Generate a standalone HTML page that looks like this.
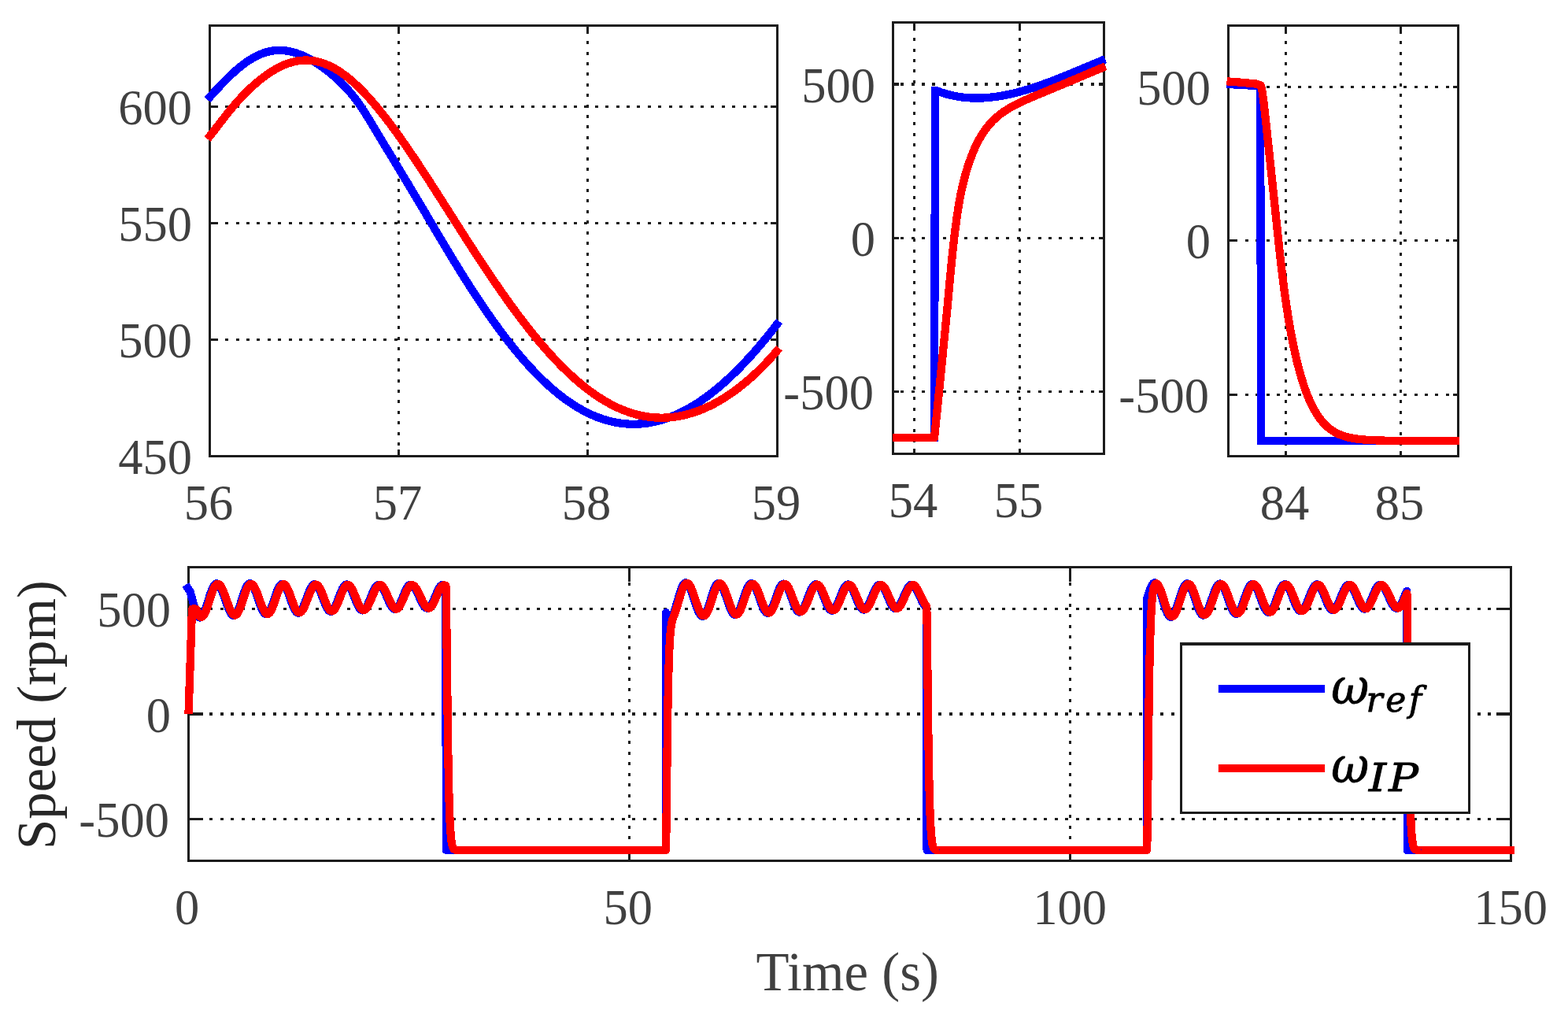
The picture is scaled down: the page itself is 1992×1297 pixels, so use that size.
<!DOCTYPE html>
<html lang="en"><head><meta charset="utf-8"><title>Speed response</title>
<style>html,body{margin:0;padding:0;background:#fff;overflow:hidden}svg{display:block}</style></head><body>
<svg width="1992" height="1297" viewBox="0 0 1992 1297" font-family="'Liberation Serif', 'DejaVu Serif', serif">
<rect width="1992" height="1297" fill="#fff"/>
<g stroke="#1c1c1c" stroke-width="3" stroke-dasharray="4 9.42" fill="none" shape-rendering="crispEdges"><line x1="506.5" y1="32.5" x2="506.5" y2="579.5" stroke-dashoffset="-19.6"/><line x1="746.5" y1="32.5" x2="746.5" y2="579.5" stroke-dashoffset="-19.6"/><line x1="266.5" y1="431.5" x2="987.5" y2="431.5" stroke-dashoffset="-19.6"/><line x1="266.5" y1="283.5" x2="987.5" y2="283.5" stroke-dashoffset="-19.6"/><line x1="266.5" y1="135.5" x2="987.5" y2="135.5" stroke-dashoffset="-19.6"/></g>
<path d="M506.5 32.5v8.7M506.5 579.5v-8.7M746.5 32.5v8.7M746.5 579.5v-8.7M266.5 431.5h8.7M987.5 431.5h-8.7M266.5 283.5h8.7M987.5 283.5h-8.7M266.5 135.5h8.7M987.5 135.5h-8.7" stroke="#1c1c1c" stroke-width="3" fill="none" shape-rendering="crispEdges"/>
<rect x="266.5" y="32.5" width="721" height="547" fill="none" stroke="#1c1c1c" stroke-width="3" shape-rendering="crispEdges"/>
<path d="M263.5 126.59 L265.5 124.4 L267.5 122.21 L269.5 120.02 L271.5 117.84 L273.5 115.66 L275.5 113.5 L277.5 111.36 L279.5 109.23 L281.5 107.13 L283.5 105.05 L285.5 103 L287.5 100.98 L289.5 98.99 L291.5 97.04 L293.5 95.13 L295.5 93.26 L297.5 91.43 L299.5 89.65 L301.5 87.92 L303.5 86.23 L305.5 84.59 L307.5 83.01 L309.5 81.48 L311.5 80.01 L313.5 78.6 L315.5 77.25 L317.5 75.95 L319.5 74.72 L321.5 73.55 L323.5 72.45 L325.5 71.41 L327.5 70.43 L329.5 69.52 L331.5 68.68 L333.5 67.91 L335.5 67.2 L337.5 66.56 L339.5 66 L341.5 65.5 L343.5 65.07 L345.5 64.7 L347.5 64.41 L349.5 64.19 L351.5 64.03 L353.5 63.94 L355.5 63.92 L357.5 63.97 L359.5 64.08 L361.5 64.26 L363.5 64.5 L365.5 64.8 L367.5 65.17 L369.5 65.6 L371.5 66.09 L373.5 66.64 L375.5 67.24 L377.5 67.91 L379.5 68.62 L381.5 69.39 L383.5 70.21 L385.5 71.08 L387.5 72.01 L389.5 72.98 L391.5 74 L393.5 75.06 L395.5 76.17 L397.5 77.33 L399.5 78.53 L401.5 79.77 L403.5 81.06 L405.5 82.39 L407.5 83.75 L409.5 85.16 L411.5 86.61 L413.5 88.1 L415.5 89.63 L417.5 91.2 L419.5 92.8 L421.5 94.45 L423.5 96.14 L425.5 97.87 L427.5 99.65 L429.5 101.48 L431.5 103.35 L433.5 105.28 L435.5 107.26 L437.5 109.3 L439.5 111.41 L441.5 113.58 L443.5 115.82 L445.5 118.13 L447.5 120.53 L449.5 123.02 L451.5 125.59 L453.5 128.27 L455.5 131.04 L457.5 133.91 L459.5 136.87 L461.5 139.91 L463.5 143.02 L465.5 146.19 L467.5 149.4 L469.5 152.65 L471.5 155.93 L473.5 159.23 L475.5 162.55 L477.5 165.88 L479.5 169.22 L481.5 172.55 L483.5 175.89 L485.5 179.22 L487.5 182.54 L489.5 185.86 L491.5 189.17 L493.5 192.48 L495.5 195.78 L497.5 199.08 L499.5 202.38 L501.5 205.68 L503.5 208.98 L505.5 212.28 L507.5 215.58 L509.5 218.89 L511.5 222.2 L513.5 225.52 L515.5 228.84 L517.5 232.16 L519.5 235.49 L521.5 238.83 L523.5 242.17 L525.5 245.52 L527.5 248.88 L529.5 252.24 L531.5 255.6 L533.5 258.98 L535.5 262.35 L537.5 265.73 L539.5 269.12 L541.5 272.5 L543.5 275.89 L545.5 279.28 L547.5 282.67 L549.5 286.06 L551.5 289.45 L553.5 292.83 L555.5 296.21 L557.5 299.59 L559.5 302.96 L561.5 306.32 L563.5 309.67 L565.5 313.02 L567.5 316.35 L569.5 319.68 L571.5 322.99 L573.5 326.3 L575.5 329.59 L577.5 332.86 L579.5 336.12 L581.5 339.37 L583.5 342.61 L585.5 345.83 L587.5 349.03 L589.5 352.22 L591.5 355.39 L593.5 358.54 L595.5 361.68 L597.5 364.79 L599.5 367.9 L601.5 370.98 L603.5 374.04 L605.5 377.08 L607.5 380.11 L609.5 383.11 L611.5 386.09 L613.5 389.06 L615.5 392 L617.5 394.91 L619.5 397.81 L621.5 400.69 L623.5 403.54 L625.5 406.37 L627.5 409.17 L629.5 411.95 L631.5 414.71 L633.5 417.44 L635.5 420.15 L637.5 422.83 L639.5 425.49 L641.5 428.12 L643.5 430.73 L645.5 433.31 L647.5 435.86 L649.5 438.39 L651.5 440.89 L653.5 443.36 L655.5 445.8 L657.5 448.22 L659.5 450.61 L661.5 452.97 L663.5 455.3 L665.5 457.6 L667.5 459.87 L669.5 462.12 L671.5 464.33 L673.5 466.51 L675.5 468.67 L677.5 470.79 L679.5 472.89 L681.5 474.95 L683.5 476.98 L685.5 478.98 L687.5 480.95 L689.5 482.89 L691.5 484.8 L693.5 486.68 L695.5 488.52 L697.5 490.33 L699.5 492.11 L701.5 493.86 L703.5 495.58 L705.5 497.26 L707.5 498.91 L709.5 500.53 L711.5 502.12 L713.5 503.67 L715.5 505.19 L717.5 506.68 L719.5 508.13 L721.5 509.55 L723.5 510.94 L725.5 512.29 L727.5 513.61 L729.5 514.9 L731.5 516.15 L733.5 517.37 L735.5 518.55 L737.5 519.71 L739.5 520.83 L741.5 521.91 L743.5 522.96 L745.5 523.98 L747.5 524.96 L749.5 525.91 L751.5 526.83 L753.5 527.71 L755.5 528.56 L757.5 529.37 L759.5 530.15 L761.5 530.9 L763.5 531.61 L765.5 532.29 L767.5 532.93 L769.5 533.55 L771.5 534.12 L773.5 534.67 L775.5 535.18 L777.5 535.65 L779.5 536.09 L781.5 536.5 L783.5 536.88 L785.5 537.22 L787.5 537.53 L789.5 537.8 L791.5 538.04 L793.5 538.25 L795.5 538.42 L797.5 538.56 L799.5 538.66 L801.5 538.74 L803.5 538.77 L805.5 538.78 L807.5 538.75 L809.5 538.69 L811.5 538.6 L813.5 538.47 L815.5 538.31 L817.5 538.11 L819.5 537.89 L821.5 537.63 L823.5 537.33 L825.5 537.01 L827.5 536.65 L829.5 536.26 L831.5 535.84 L833.5 535.38 L835.5 534.89 L837.5 534.37 L839.5 533.82 L841.5 533.23 L843.5 532.61 L845.5 531.96 L847.5 531.28 L849.5 530.57 L851.5 529.82 L853.5 529.05 L855.5 528.24 L857.5 527.4 L859.5 526.52 L861.5 525.62 L863.5 524.69 L865.5 523.72 L867.5 522.73 L869.5 521.7 L871.5 520.64 L873.5 519.55 L875.5 518.43 L877.5 517.28 L879.5 516.1 L881.5 514.89 L883.5 513.65 L885.5 512.38 L887.5 511.08 L889.5 509.75 L891.5 508.39 L893.5 507 L895.5 505.58 L897.5 504.14 L899.5 502.66 L901.5 501.15 L903.5 499.62 L905.5 498.06 L907.5 496.47 L909.5 494.85 L911.5 493.2 L913.5 491.52 L915.5 489.82 L917.5 488.09 L919.5 486.33 L921.5 484.55 L923.5 482.73 L925.5 480.89 L927.5 479.02 L929.5 477.13 L931.5 475.21 L933.5 473.26 L935.5 471.29 L937.5 469.29 L939.5 467.27 L941.5 465.22 L943.5 463.14 L945.5 461.04 L947.5 458.91 L949.5 456.76 L951.5 454.58 L953.5 452.38 L955.5 450.16 L957.5 447.91 L959.5 445.64 L961.5 443.34 L963.5 441.02 L965.5 438.68 L967.5 436.31 L969.5 433.92 L971.5 431.51 L973.5 429.07 L975.5 426.61 L977.5 424.13 L979.5 421.63 L981.5 419.11 L983.5 416.56 L985.5 414 L987.5 411.41 L989.5 408.8 L990 408.15" fill="none" stroke="#0000ff" stroke-width="10.3" stroke-linecap="butt" stroke-linejoin="round" shape-rendering="crispEdges"/>
<path d="M263.5 176.66 L265.5 174.21 L267.5 171.72 L269.5 169.19 L271.5 166.63 L273.5 164.04 L275.5 161.44 L277.5 158.84 L279.5 156.24 L281.5 153.64 L283.5 151.06 L285.5 148.5 L287.5 145.96 L289.5 143.45 L291.5 140.98 L293.5 138.54 L295.5 136.14 L297.5 133.79 L299.5 131.47 L301.5 129.2 L303.5 126.98 L305.5 124.8 L307.5 122.67 L309.5 120.58 L311.5 118.54 L313.5 116.54 L315.5 114.59 L317.5 112.67 L319.5 110.81 L321.5 108.98 L323.5 107.2 L325.5 105.46 L327.5 103.77 L329.5 102.12 L331.5 100.52 L333.5 98.96 L335.5 97.44 L337.5 95.98 L339.5 94.56 L341.5 93.18 L343.5 91.86 L345.5 90.58 L347.5 89.35 L349.5 88.18 L351.5 87.06 L353.5 85.99 L355.5 84.97 L357.5 84.01 L359.5 83.1 L361.5 82.25 L363.5 81.46 L365.5 80.72 L367.5 80.05 L369.5 79.43 L371.5 78.87 L373.5 78.37 L375.5 77.93 L377.5 77.56 L379.5 77.24 L381.5 76.98 L383.5 76.79 L385.5 76.66 L387.5 76.59 L389.5 76.59 L391.5 76.65 L393.5 76.77 L395.5 76.95 L397.5 77.2 L399.5 77.51 L401.5 77.89 L403.5 78.32 L405.5 78.82 L407.5 79.39 L409.5 80.01 L411.5 80.7 L413.5 81.45 L415.5 82.26 L417.5 83.13 L419.5 84.07 L421.5 85.06 L423.5 86.12 L425.5 87.23 L427.5 88.41 L429.5 89.64 L431.5 90.93 L433.5 92.27 L435.5 93.68 L437.5 95.13 L439.5 96.65 L441.5 98.21 L443.5 99.83 L445.5 101.5 L447.5 103.22 L449.5 104.99 L451.5 106.81 L453.5 108.68 L455.5 110.6 L457.5 112.56 L459.5 114.56 L461.5 116.61 L463.5 118.7 L465.5 120.83 L467.5 123.01 L469.5 125.22 L471.5 127.48 L473.5 129.77 L475.5 132.1 L477.5 134.46 L479.5 136.86 L481.5 139.29 L483.5 141.76 L485.5 144.26 L487.5 146.79 L489.5 149.36 L491.5 151.95 L493.5 154.57 L495.5 157.22 L497.5 159.89 L499.5 162.6 L501.5 165.33 L503.5 168.08 L505.5 170.86 L507.5 173.66 L509.5 176.48 L511.5 179.32 L513.5 182.19 L515.5 185.07 L517.5 187.98 L519.5 190.9 L521.5 193.84 L523.5 196.79 L525.5 199.77 L527.5 202.75 L529.5 205.76 L531.5 208.77 L533.5 211.8 L535.5 214.84 L537.5 217.89 L539.5 220.96 L541.5 224.03 L543.5 227.11 L545.5 230.2 L547.5 233.3 L549.5 236.41 L551.5 239.52 L553.5 242.64 L555.5 245.77 L557.5 248.9 L559.5 252.03 L561.5 255.17 L563.5 258.31 L565.5 261.45 L567.5 264.6 L569.5 267.74 L571.5 270.89 L573.5 274.03 L575.5 277.18 L577.5 280.32 L579.5 283.46 L581.5 286.6 L583.5 289.74 L585.5 292.87 L587.5 296 L589.5 299.12 L591.5 302.24 L593.5 305.35 L595.5 308.46 L597.5 311.56 L599.5 314.65 L601.5 317.73 L603.5 320.81 L605.5 323.88 L607.5 326.93 L609.5 329.98 L611.5 333.02 L613.5 336.05 L615.5 339.06 L617.5 342.07 L619.5 345.06 L621.5 348.04 L623.5 351.01 L625.5 353.96 L627.5 356.9 L629.5 359.83 L631.5 362.74 L633.5 365.64 L635.5 368.52 L637.5 371.39 L639.5 374.24 L641.5 377.07 L643.5 379.89 L645.5 382.69 L647.5 385.47 L649.5 388.24 L651.5 390.98 L653.5 393.71 L655.5 396.42 L657.5 399.11 L659.5 401.78 L661.5 404.43 L663.5 407.05 L665.5 409.66 L667.5 412.25 L669.5 414.82 L671.5 417.36 L673.5 419.88 L675.5 422.38 L677.5 424.86 L679.5 427.31 L681.5 429.74 L683.5 432.15 L685.5 434.53 L687.5 436.89 L689.5 439.23 L691.5 441.54 L693.5 443.82 L695.5 446.08 L697.5 448.32 L699.5 450.53 L701.5 452.71 L703.5 454.87 L705.5 457 L707.5 459.1 L709.5 461.18 L711.5 463.23 L713.5 465.25 L715.5 467.25 L717.5 469.21 L719.5 471.15 L721.5 473.06 L723.5 474.95 L725.5 476.8 L727.5 478.62 L729.5 480.42 L731.5 482.19 L733.5 483.92 L735.5 485.63 L737.5 487.31 L739.5 488.95 L741.5 490.57 L743.5 492.16 L745.5 493.72 L747.5 495.24 L749.5 496.74 L751.5 498.2 L753.5 499.64 L755.5 501.04 L757.5 502.41 L759.5 503.75 L761.5 505.06 L763.5 506.33 L765.5 507.58 L767.5 508.79 L769.5 509.97 L771.5 511.12 L773.5 512.24 L775.5 513.32 L777.5 514.38 L779.5 515.39 L781.5 516.38 L783.5 517.34 L785.5 518.26 L787.5 519.15 L789.5 520 L791.5 520.83 L793.5 521.62 L795.5 522.38 L797.5 523.1 L799.5 523.79 L801.5 524.45 L803.5 525.08 L805.5 525.67 L807.5 526.23 L809.5 526.76 L811.5 527.25 L813.5 527.71 L815.5 528.14 L817.5 528.53 L819.5 528.9 L821.5 529.22 L823.5 529.52 L825.5 529.78 L827.5 530.01 L829.5 530.2 L831.5 530.37 L833.5 530.5 L835.5 530.59 L837.5 530.66 L839.5 530.69 L841.5 530.69 L843.5 530.65 L845.5 530.58 L847.5 530.49 L849.5 530.35 L851.5 530.19 L853.5 529.99 L855.5 529.76 L857.5 529.5 L859.5 529.21 L861.5 528.88 L863.5 528.52 L865.5 528.14 L867.5 527.71 L869.5 527.26 L871.5 526.78 L873.5 526.26 L875.5 525.72 L877.5 525.14 L879.5 524.53 L881.5 523.89 L883.5 523.22 L885.5 522.51 L887.5 521.78 L889.5 521.02 L891.5 520.22 L893.5 519.39 L895.5 518.54 L897.5 517.65 L899.5 516.73 L901.5 515.78 L903.5 514.8 L905.5 513.79 L907.5 512.75 L909.5 511.67 L911.5 510.57 L913.5 509.43 L915.5 508.27 L917.5 507.07 L919.5 505.84 L921.5 504.59 L923.5 503.3 L925.5 501.98 L927.5 500.63 L929.5 499.24 L931.5 497.83 L933.5 496.39 L935.5 494.91 L937.5 493.4 L939.5 491.86 L941.5 490.29 L943.5 488.69 L945.5 487.06 L947.5 485.39 L949.5 483.7 L951.5 481.97 L953.5 480.21 L955.5 478.41 L957.5 476.59 L959.5 474.73 L961.5 472.84 L963.5 470.91 L965.5 468.96 L967.5 466.97 L969.5 464.95 L971.5 462.89 L973.5 460.8 L975.5 458.68 L977.5 456.53 L979.5 454.34 L981.5 452.11 L983.5 449.85 L985.5 447.56 L987.5 445.24 L989.5 442.87 L990 442.28" fill="none" stroke="#ff0000" stroke-width="10.3" stroke-linecap="butt" stroke-linejoin="round" shape-rendering="crispEdges"/>
<text x="265" y="660.3" font-size="62.5" text-anchor="middle" fill="#404040" >56</text>
<text x="505" y="660.3" font-size="62.5" text-anchor="middle" fill="#404040" >57</text>
<text x="745" y="660.3" font-size="62.5" text-anchor="middle" fill="#404040" >58</text>
<text x="986" y="660.3" font-size="62.5" text-anchor="middle" fill="#404040" >59</text>
<text x="243.9" y="602.4" font-size="62.5" text-anchor="end" fill="#404040" >450</text>
<text x="243.9" y="454.4" font-size="62.5" text-anchor="end" fill="#404040" >500</text>
<text x="243.9" y="306.4" font-size="62.5" text-anchor="end" fill="#404040" >550</text>
<text x="243.9" y="158.4" font-size="62.5" text-anchor="end" fill="#404040" >600</text>
<g stroke="#1c1c1c" stroke-width="3" stroke-dasharray="4 9.42" fill="none" shape-rendering="crispEdges"><line x1="1161.5" y1="28.5" x2="1161.5" y2="576.5" stroke-dashoffset="-19.6"/><line x1="1295.5" y1="28.5" x2="1295.5" y2="576.5" stroke-dashoffset="-19.6"/><line x1="1134.5" y1="497.5" x2="1402.5" y2="497.5" stroke-dashoffset="-9.6"/><line x1="1134.5" y1="302.5" x2="1402.5" y2="302.5" stroke-dashoffset="-9.6"/><line x1="1134.5" y1="107" x2="1402.5" y2="107" stroke-dashoffset="-9.6" stroke-width="4"/></g>
<path d="M1161.5 28.5v7M1161.5 576.5v-7M1295.5 28.5v7M1295.5 576.5v-7M1134.5 497.5h7M1402.5 497.5h-7M1134.5 302.5h7M1402.5 302.5h-7" stroke="#1c1c1c" stroke-width="3" fill="none" shape-rendering="crispEdges"/>
<path d="M1134.5 107h7M1402.5 107h-7" stroke="#1c1c1c" stroke-width="4" fill="none" shape-rendering="crispEdges"/>
<rect x="1134.5" y="28.5" width="268" height="548" fill="none" stroke="#1c1c1c" stroke-width="3" shape-rendering="crispEdges"/>
<path d="M1134 556 L1186.9 556 L1188.1 115.2 L1189.6 115.12 L1191.1 115.7 L1192.6 116.26 L1194.1 116.8 L1195.6 117.32 L1197.1 117.82 L1198.6 118.3 L1200.1 118.76 L1201.6 119.2 L1203.1 119.62 L1204.6 120.03 L1206.1 120.41 L1207.6 120.78 L1209.1 121.13 L1210.6 121.46 L1212.1 121.77 L1213.6 122.07 L1215.1 122.35 L1216.6 122.61 L1218.1 122.85 L1219.6 123.08 L1221.1 123.29 L1222.6 123.49 L1224.1 123.66 L1225.6 123.83 L1227.1 123.97 L1228.6 124.1 L1230.1 124.21 L1231.6 124.31 L1233.1 124.4 L1234.6 124.47 L1236.1 124.52 L1237.6 124.56 L1239.1 124.58 L1240.6 124.59 L1242.1 124.59 L1243.6 124.57 L1245.1 124.53 L1246.6 124.49 L1248.1 124.43 L1249.6 124.36 L1251.1 124.27 L1252.6 124.17 L1254.1 124.06 L1255.6 123.93 L1257.1 123.79 L1258.6 123.64 L1260.1 123.48 L1261.6 123.31 L1263.1 123.12 L1264.6 122.92 L1266.1 122.71 L1267.6 122.49 L1269.1 122.26 L1270.6 122.02 L1272.1 121.77 L1273.6 121.5 L1275.1 121.23 L1276.6 120.94 L1278.1 120.64 L1279.6 120.34 L1281.1 120.02 L1282.6 119.7 L1284.1 119.36 L1285.6 119.02 L1287.1 118.67 L1288.6 118.3 L1290.1 117.93 L1291.6 117.55 L1293.1 117.16 L1294.6 116.77 L1296.1 116.36 L1297.6 115.95 L1299.1 115.52 L1300.6 115.09 L1302.1 114.66 L1303.6 114.21 L1305.1 113.76 L1306.6 113.3 L1308.1 112.83 L1309.6 112.36 L1311.1 111.88 L1312.6 111.4 L1314.1 110.9 L1315.6 110.4 L1317.1 109.9 L1318.6 109.39 L1320.1 108.87 L1321.6 108.35 L1323.1 107.82 L1324.6 107.29 L1326.1 106.75 L1327.6 106.2 L1329.1 105.65 L1330.6 105.1 L1332.1 104.54 L1333.6 103.98 L1335.1 103.41 L1336.6 102.84 L1338.1 102.27 L1339.6 101.69 L1341.1 101.1 L1342.6 100.52 L1344.1 99.93 L1345.6 99.34 L1347.1 98.74 L1348.6 98.14 L1350.1 97.54 L1351.6 96.93 L1353.1 96.33 L1354.6 95.72 L1356.1 95.1 L1357.6 94.49 L1359.1 93.87 L1360.6 93.26 L1362.1 92.64 L1363.6 92.01 L1365.1 91.39 L1366.6 90.77 L1368.1 90.14 L1369.6 89.52 L1371.1 88.89 L1372.6 88.26 L1374.1 87.63 L1375.6 87 L1377.1 86.37 L1378.6 85.74 L1380.1 85.11 L1381.6 84.49 L1383.1 83.86 L1384.6 83.23 L1386.1 82.6 L1387.6 81.97 L1389.1 81.34 L1390.6 80.72 L1392.1 80.09 L1393.6 79.47 L1395.1 78.84 L1396.6 78.22 L1398.1 77.6 L1399.6 76.98 L1401.1 76.37 L1402.6 75.75 L1404.1 75.14" fill="none" stroke="#0000ff" stroke-width="10.3" stroke-linecap="butt" stroke-linejoin="miter" shape-rendering="crispEdges"/>
<path d="M1134 556 L1187 556 L1187.21 553.99 L1187.42 551.98 L1187.62 549.98 L1187.83 547.97 L1188.04 545.96 L1188.25 543.95 L1188.45 541.94 L1188.66 539.93 L1188.87 537.93 L1189.08 535.92 L1189.28 533.91 L1189.49 531.9 L1189.7 529.89 L1189.9 527.88 L1190.11 525.88 L1190.31 523.87 L1190.52 521.86 L1190.72 519.85 L1190.93 517.84 L1191.13 515.83 L1191.34 513.82 L1191.54 511.82 L1191.75 509.81 L1191.95 507.8 L1192.15 505.79 L1192.36 503.78 L1192.56 501.77 L1192.76 499.76 L1192.96 497.76 L1193.17 495.75 L1193.37 493.74 L1193.57 491.73 L1193.77 489.72 L1193.97 487.71 L1194.17 485.7 L1194.37 483.69 L1194.57 481.68 L1194.77 479.68 L1194.97 477.67 L1195.17 475.66 L1195.37 473.65 L1195.57 471.64 L1195.77 469.63 L1195.97 467.62 L1196.17 465.61 L1196.37 463.6 L1196.56 461.59 L1196.76 459.58 L1196.96 457.57 L1197.16 455.57 L1197.36 453.56 L1197.55 451.55 L1197.75 449.54 L1197.95 447.53 L1198.14 445.52 L1198.34 443.51 L1198.54 441.5 L1198.74 439.49 L1198.93 437.48 L1199.13 435.47 L1199.33 433.46 L1199.52 431.45 L1199.72 429.44 L1199.92 427.44 L1200.11 425.43 L1200.31 423.42 L1200.51 421.41 L1200.71 419.4 L1200.9 417.39 L1201.1 415.38 L1201.3 413.37 L1201.49 411.36 L1201.69 409.35 L1201.89 407.34 L1202.08 405.33 L1202.28 403.32 L1202.48 401.31 L1202.68 399.3 L1202.87 397.3 L1203.07 395.29 L1203.27 393.28 L1203.46 391.27 L1203.66 389.26 L1203.85 387.25 L1204.04 385.24 L1204.23 383.23 L1204.42 381.22 L1204.61 379.21 L1204.79 377.19 L1204.98 375.18 L1205.16 373.17 L1205.35 371.16 L1205.53 369.15 L1205.72 367.14 L1205.9 365.13 L1206.08 363.12 L1206.27 361.11 L1206.45 359.09 L1206.64 357.08 L1206.82 355.07 L1207.01 353.06 L1207.19 351.05 L1207.38 349.04 L1207.56 347.03 L1207.75 345.02 L1207.94 343.01 L1208.13 341 L1208.32 338.99 L1208.52 336.98 L1208.71 334.97 L1208.91 332.96 L1209.11 330.95 L1209.31 328.94 L1209.51 326.93 L1209.72 324.92 L1209.92 322.91 L1210.13 320.91 L1210.34 318.9 L1210.56 316.89 L1210.78 314.89 L1211 312.88 L1211.22 310.88 L1211.45 308.87 L1211.68 306.87 L1211.91 304.86 L1212.15 302.86 L1212.39 300.86 L1212.63 298.85 L1212.87 296.85 L1213.12 294.84 L1213.37 292.84 L1213.63 290.84 L1213.88 288.83 L1214.15 286.83 L1214.41 284.82 L1214.68 282.82 L1214.96 280.82 L1215.23 278.82 L1215.52 276.81 L1215.8 274.81 L1216.1 272.81 L1216.39 270.82 L1216.7 268.82 L1217.01 266.82 L1217.32 264.83 L1217.64 262.84 L1217.97 260.84 L1218.3 258.86 L1218.64 256.87 L1218.99 254.88 L1219.34 252.9 L1219.7 250.92 L1220.07 248.94 L1220.46 246.96 L1220.87 244.98 L1221.28 243 L1221.71 241.03 L1222.16 239.05 L1222.61 237.08 L1223.07 235.11 L1223.55 233.15 L1224.03 231.19 L1224.53 229.23 L1225.03 227.27 L1225.54 225.32 L1226.06 223.37 L1226.59 221.43 L1227.14 219.49 L1227.7 217.55 L1228.29 215.61 L1228.89 213.68 L1229.5 211.76 L1230.13 209.83 L1230.77 207.92 L1231.42 206.01 L1232.08 204.1 L1232.76 202.21 L1233.46 200.31 L1234.18 198.43 L1234.91 196.55 L1235.66 194.67 L1236.43 192.8 L1237.21 190.93 L1238 189.07 L1239.5 185.77 L1241 182.64 L1242.5 179.69 L1244 176.89 L1245.5 174.25 L1247 171.74 L1248.5 169.37 L1250 167.11 L1251.5 164.98 L1253 162.95 L1254.5 161.02 L1256 159.19 L1257.5 157.45 L1259 155.79 L1260.5 154.21 L1262 152.7 L1263.5 151.26 L1265 149.88 L1266.5 148.56 L1268 147.3 L1269.5 146.09 L1271 144.93 L1272.5 143.81 L1274 142.73 L1275.5 141.69 L1277 140.69 L1278.5 139.72 L1280 138.78 L1281.5 137.87 L1283 136.99 L1284.5 136.13 L1286 135.3 L1287.5 134.49 L1289 133.69 L1290.5 132.91 L1292 132.15 L1293.5 131.41 L1295 130.68 L1296.5 129.96 L1298 129.25 L1299.5 128.55 L1301 127.87 L1302.5 127.19 L1304 126.52 L1305.5 125.85 L1307 125.19 L1308.5 124.54 L1310 123.9 L1311.5 123.25 L1313 122.61 L1314.5 121.98 L1316 121.35 L1317.5 120.72 L1319 120.09 L1320.5 119.46 L1322 118.84 L1323.5 118.22 L1325 117.59 L1326.5 116.97 L1328 116.35 L1329.5 115.73 L1331 115.11 L1332.5 114.49 L1334 113.87 L1335.5 113.25 L1337 112.63 L1338.5 112 L1340 111.38 L1341.5 110.76 L1343 110.13 L1344.5 109.51 L1346 108.88 L1347.5 108.26 L1349 107.63 L1350.5 107 L1352 106.37 L1353.5 105.75 L1355 105.11 L1356.5 104.48 L1358 103.85 L1359.5 103.22 L1361 102.59 L1362.5 101.95 L1364 101.32 L1365.5 100.69 L1367 100.05 L1368.5 99.42 L1370 98.78 L1371.5 98.15 L1373 97.51 L1374.5 96.88 L1376 96.24 L1377.5 95.61 L1379 94.97 L1380.5 94.34 L1382 93.7 L1383.5 93.07 L1385 92.44 L1386.5 91.81 L1388 91.18 L1389.5 90.55 L1391 89.92 L1392.5 89.29 L1394 88.67 L1395.5 88.05 L1397 87.42 L1398.5 86.8 L1400 86.18 L1401.5 85.57 L1403 84.95 L1404.5 84.34" fill="none" stroke="#ff0000" stroke-width="10.3" stroke-linecap="butt" stroke-linejoin="round" shape-rendering="crispEdges"/>
<text x="1160" y="657.3" font-size="62.5" text-anchor="middle" fill="#404040" >54</text>
<text x="1294" y="657.3" font-size="62.5" text-anchor="middle" fill="#404040" >55</text>
<text x="1109.9" y="520.4" font-size="62.5" text-anchor="end" fill="#404040" >-500</text>
<text x="1111.9" y="325.4" font-size="62.5" text-anchor="end" fill="#404040" >0</text>
<text x="1111.9" y="129.9" font-size="62.5" text-anchor="end" fill="#404040" >500</text>
<g stroke="#1c1c1c" stroke-width="3" stroke-dasharray="4 9.42" fill="none" shape-rendering="crispEdges"><line x1="1633.5" y1="32.5" x2="1633.5" y2="579.5" stroke-dashoffset="-19.6"/><line x1="1779.5" y1="32.5" x2="1779.5" y2="579.5" stroke-dashoffset="-19.6"/><line x1="1560.5" y1="501.5" x2="1852.5" y2="501.5" stroke-dashoffset="-21.4"/><line x1="1560.5" y1="305.5" x2="1852.5" y2="305.5" stroke-dashoffset="-21.4"/><line x1="1560.5" y1="110.5" x2="1852.5" y2="110.5" stroke-dashoffset="-21.4"/></g>
<path d="M1633.5 32.5v7M1633.5 579.5v-7M1779.5 32.5v7M1779.5 579.5v-7M1560.5 501.5h7M1852.5 501.5h-7M1560.5 305.5h7M1852.5 305.5h-7M1560.5 110.5h7M1852.5 110.5h-7" stroke="#1c1c1c" stroke-width="3" fill="none" shape-rendering="crispEdges"/>
<rect x="1560.5" y="32.5" width="292" height="547" fill="none" stroke="#1c1c1c" stroke-width="3" shape-rendering="crispEdges"/>
<path d="M1558.5 106.9 L1580 108 L1601 109.5 L1602.3 560 L1853.5 560" fill="none" stroke="#0000ff" stroke-width="10.3" stroke-linecap="butt" stroke-linejoin="miter" shape-rendering="crispEdges"/>
<path d="M1558.5 103.3 L1580 105 L1596 106.6 L1601.6 108.5 L1602.6 111.17 L1603.6 116.55 L1604.6 123.58 L1605.6 131.6 L1606.6 140.22 L1607.6 149.19 L1608.6 158.37 L1609.6 167.68 L1610.6 177.07 L1611.6 186.5 L1612.6 195.96 L1613.6 205.44 L1614.6 214.92 L1615.6 224.41 L1616.6 233.91 L1617.6 243.4 L1618.6 252.9 L1619.6 262.4 L1620.6 271.9 L1621.6 281.4 L1622.6 290.9 L1623.6 300.4 L1624.6 309.81 L1625.6 319.04 L1626.6 328.03 L1627.6 336.76 L1628.6 345.2 L1629.6 353.35 L1630.6 361.21 L1631.6 368.8 L1632.6 376.11 L1633.6 383.15 L1634.6 389.94 L1635.6 396.48 L1636.6 402.77 L1637.6 408.84 L1638.6 414.69 L1639.6 420.33 L1640.6 425.76 L1641.6 430.99 L1642.6 436.03 L1643.6 440.89 L1644.6 445.58 L1645.6 450.09 L1646.6 454.44 L1647.6 458.64 L1648.6 462.68 L1649.6 466.57 L1650.6 470.33 L1651.6 473.95 L1652.6 477.44 L1653.6 480.8 L1654.6 484.04 L1655.6 487.16 L1656.6 490.17 L1657.6 493.07 L1658.6 495.86 L1659.6 498.55 L1660.6 501.14 L1661.6 503.63 L1662.6 506.04 L1663.6 508.35 L1664.6 510.57 L1665.6 512.71 L1666.6 514.77 L1667.6 516.75 L1668.6 518.66 L1669.6 520.49 L1670.6 522.25 L1671.6 523.94 L1672.6 525.56 L1673.6 527.12 L1674.6 528.62 L1675.6 530.06 L1676.6 531.43 L1677.6 532.76 L1678.6 534.03 L1679.6 535.24 L1680.6 536.4 L1681.6 537.52 L1682.6 538.59 L1683.6 539.61 L1684.6 540.59 L1685.6 541.52 L1686.6 542.42 L1687.6 543.27 L1688.6 544.09 L1689.6 544.87 L1690.6 545.62 L1691.6 546.33 L1692.6 547.01 L1693.6 547.66 L1694.6 548.28 L1695.6 548.87 L1696.6 549.43 L1697.6 549.96 L1698.6 550.47 L1699.6 550.96 L1700.6 551.42 L1701.6 551.86 L1702.6 552.28 L1703.6 552.68 L1704.6 553.05 L1705.6 553.41 L1706.6 553.76 L1707.6 554.08 L1708.6 554.39 L1709.6 554.68 L1710.6 554.96 L1711.6 555.23 L1712.6 555.48 L1713.6 555.72 L1714.6 555.94 L1715.6 556.16 L1716.6 556.36 L1717.6 556.55 L1718.6 556.74 L1719.6 556.91 L1720.6 557.08 L1721.6 557.23 L1722.6 557.38 L1723.6 557.52 L1724.6 557.65 L1725.6 557.78 L1726.6 557.9 L1727.6 558.01 L1728.6 558.12 L1729.6 558.22 L1730.6 558.31 L1731.6 558.4 L1732.6 558.49 L1733.6 558.57 L1734.6 558.65 L1735.6 558.72 L1736.6 558.79 L1737.6 558.86 L1738.6 558.92 L1739.6 558.98 L1740.6 559.03 L1741.6 559.08 L1742.6 559.13 L1743.6 559.18 L1744.6 559.23 L1745.6 559.27 L1746.6 559.31 L1747.6 559.34 L1748.6 559.38 L1749.6 559.41 L1750.6 559.45 L1751.6 559.48 L1752.6 559.5 L1753.6 559.53 L1754.6 559.56 L1755.6 559.58 L1756.6 559.6 L1757.6 559.63 L1758.6 559.65 L1759.6 559.67 L1760.6 559.68 L1761.6 559.7 L1762.6 559.72 L1763.6 559.73 L1764.6 559.75 L1765.6 559.76 L1766.6 559.77 L1767.6 559.79 L1768.6 559.8 L1769.6 559.81 L1770.6 559.82 L1771.6 559.83 L1772.6 559.84 L1773.6 559.85 L1774.6 559.86 L1775.6 559.86 L1776.6 559.87 L1777.6 559.88 L1778.6 559.88 L1779.6 559.89 L1780.6 559.9 L1781.6 559.9 L1782.6 559.91 L1783.6 559.91 L1784.6 559.92 L1785.6 559.92 L1786.6 559.93 L1787.6 559.93 L1788.6 559.93 L1789.6 559.94 L1790.6 559.94 L1791.6 559.94 L1792.6 559.95 L1793.6 559.95 L1794.6 559.95 L1795.6 559.96 L1796.6 559.96 L1797.6 559.96 L1798.6 559.96 L1799.6 559.96 L1800.6 559.97 L1801.6 559.97 L1802.6 559.97 L1803.6 559.97 L1804.6 559.97 L1805.6 559.97 L1806.6 559.98 L1807.6 559.98 L1808.6 559.98 L1809.6 559.98 L1810.6 559.98 L1811.6 559.98 L1812.6 559.98 L1813.6 559.98 L1814.6 559.98 L1815.6 559.99 L1816.6 559.99 L1817.6 559.99 L1818.6 559.99 L1819.6 559.99 L1820.6 559.99 L1821.6 559.99 L1822.6 559.99 L1823.6 559.99 L1824.6 559.99 L1825.6 559.99 L1826.6 559.99 L1827.6 559.99 L1828.6 559.99 L1829.6 559.99 L1830.6 559.99 L1831.6 559.99 L1832.6 559.99 L1833.6 559.99 L1834.6 560 L1835.6 560 L1836.6 560 L1837.6 560 L1838.6 560 L1839.6 560 L1840.6 560 L1841.6 560 L1842.6 560 L1843.6 560 L1844.6 560 L1845.6 560 L1846.6 560 L1847.6 560 L1848.6 560 L1849.6 560 L1850.6 560 L1851.6 560 L1852.6 560 L1853.5 560" fill="none" stroke="#ff0000" stroke-width="10.3" stroke-linecap="butt" stroke-linejoin="round" shape-rendering="crispEdges"/>
<text x="1632" y="660.3" font-size="62.5" text-anchor="middle" fill="#404040" >84</text>
<text x="1778" y="660.3" font-size="62.5" text-anchor="middle" fill="#404040" >85</text>
<text x="1535.9" y="524.4" font-size="62.5" text-anchor="end" fill="#404040" >-500</text>
<text x="1537.9" y="328.4" font-size="62.5" text-anchor="end" fill="#404040" >0</text>
<text x="1537.9" y="133.4" font-size="62.5" text-anchor="end" fill="#404040" >500</text>
<g stroke="#1c1c1c" stroke-width="3" stroke-dasharray="4 9.42" fill="none" shape-rendering="crispEdges"><line x1="799.5" y1="720.5" x2="799.5" y2="1093.5" stroke-dashoffset="-19.6"/><line x1="1359.5" y1="720.5" x2="1359.5" y2="1093.5" stroke-dashoffset="-19.6"/><line x1="239.5" y1="1040.5" x2="1919.5" y2="1040.5" stroke-dashoffset="-26.8"/><line x1="239.5" y1="907" x2="1919.5" y2="907" stroke-dashoffset="-26.8" stroke-width="4"/><line x1="239.5" y1="773.5" x2="1919.5" y2="773.5" stroke-dashoffset="-26.8"/></g>
<path d="M799.5 720.5v18.3M799.5 1093.5v-18.3M1359.5 720.5v18.3M1359.5 1093.5v-18.3M239.5 1040.5h18.3M1919.5 1040.5h-18.3M239.5 773.5h18.3M1919.5 773.5h-18.3" stroke="#1c1c1c" stroke-width="3" fill="none" shape-rendering="crispEdges"/>
<path d="M239.5 907h18.3M1919.5 907h-18.3" stroke="#1c1c1c" stroke-width="4" fill="none" shape-rendering="crispEdges"/>
<rect x="239.5" y="720.5" width="1680" height="373" fill="none" stroke="#1c1c1c" stroke-width="3" shape-rendering="crispEdges"/>
<path d="M236 742.8 L241.5 751.73 L242 753.32 L242.5 754.98 L243 756.7 L243.5 758.47 L244 760.27 L244.5 762.09 L245 763.91 L245.5 765.73 L246 767.53 L246.5 769.3 L247 771.02 L247.5 772.68 L248 774.27 L248.5 775.78 L249 777.2 L249.5 778.52 L250 779.73 L250.5 780.81 L251 781.77 L251.5 782.59 L252 783.27 L252.5 783.81 L253 784.19 L253.5 784.42 L254 784.5 L254.5 784.44 L255 784.26 L255.51 783.96 L256.01 783.54 L256.51 783.01 L257.01 782.36 L257.52 781.61 L258.02 780.75 L258.52 779.79 L259.02 778.73 L259.53 777.59 L260.03 776.37 L260.53 775.07 L261.03 773.7 L261.54 772.27 L262.04 770.79 L262.54 769.27 L263.04 767.71 L263.55 766.12 L264.05 764.51 L264.55 762.9 L265.05 761.29 L265.55 759.68 L266.06 758.09 L266.56 756.53 L267.06 755.01 L267.56 753.53 L268.07 752.1 L268.57 750.73 L269.07 749.43 L269.57 748.21 L270.08 747.07 L270.58 746.01 L271.08 745.05 L271.58 744.19 L272.09 743.44 L272.59 742.79 L273.09 742.26 L273.59 741.84 L274.1 741.54 L274.6 741.36 L275.1 741.3 L275.6 741.35 L276.1 741.51 L276.6 741.76 L277.1 742.12 L277.6 742.58 L278.1 743.13 L278.6 743.78 L279.1 744.52 L279.6 745.35 L280.1 746.26 L280.6 747.25 L281.1 748.31 L281.6 749.43 L282.1 750.62 L282.6 751.87 L283.1 753.17 L283.6 754.51 L284.1 755.88 L284.6 757.28 L285.1 758.71 L285.6 760.15 L286.1 761.6 L286.6 763.05 L287.1 764.49 L287.6 765.92 L288.1 767.32 L288.6 768.69 L289.1 770.03 L289.6 771.33 L290.1 772.58 L290.6 773.77 L291.1 774.89 L291.6 775.95 L292.1 776.94 L292.6 777.85 L293.1 778.68 L293.6 779.42 L294.1 780.07 L294.6 780.62 L295.1 781.08 L295.6 781.44 L296.1 781.69 L296.6 781.85 L297.1 781.9 L297.61 781.84 L298.11 781.65 L298.62 781.34 L299.12 780.91 L299.62 780.35 L300.13 779.69 L300.64 778.91 L301.14 778.02 L301.65 777.04 L302.15 775.95 L302.66 774.78 L303.16 773.53 L303.67 772.21 L304.17 770.82 L304.68 769.37 L305.18 767.87 L305.69 766.34 L306.19 764.78 L306.69 763.19 L307.2 761.6 L307.71 760.01 L308.21 758.42 L308.72 756.86 L309.22 755.33 L309.73 753.83 L310.23 752.38 L310.74 750.99 L311.24 749.67 L311.75 748.42 L312.25 747.25 L312.75 746.16 L313.26 745.18 L313.76 744.29 L314.27 743.51 L314.78 742.85 L315.28 742.29 L315.79 741.86 L316.29 741.55 L316.8 741.36 L317.3 741.3 L317.8 741.35 L318.3 741.52 L318.81 741.79 L319.31 742.17 L319.81 742.65 L320.31 743.23 L320.82 743.91 L321.32 744.69 L321.82 745.55 L322.32 746.51 L322.83 747.54 L323.33 748.64 L323.83 749.82 L324.33 751.05 L324.84 752.34 L325.34 753.68 L325.84 755.05 L326.34 756.46 L326.85 757.89 L327.35 759.34 L327.85 760.8 L328.35 762.26 L328.85 763.71 L329.36 765.14 L329.86 766.55 L330.36 767.92 L330.86 769.26 L331.37 770.55 L331.87 771.78 L332.37 772.96 L332.87 774.06 L333.38 775.09 L333.88 776.05 L334.38 776.91 L334.88 777.69 L335.39 778.37 L335.89 778.95 L336.39 779.43 L336.89 779.81 L337.4 780.08 L337.9 780.25 L338.4 780.3 L338.9 780.24 L339.41 780.06 L339.91 779.77 L340.42 779.36 L340.92 778.83 L341.43 778.2 L341.94 777.46 L342.44 776.62 L342.94 775.69 L343.45 774.66 L343.95 773.55 L344.46 772.36 L344.96 771.11 L345.47 769.79 L345.98 768.42 L346.48 767 L346.99 765.54 L347.49 764.06 L348 762.56 L348.5 761.05 L349 759.54 L349.51 758.04 L350.01 756.56 L350.52 755.1 L351.02 753.68 L351.53 752.31 L352.04 750.99 L352.54 749.74 L353.05 748.55 L353.55 747.44 L354.06 746.41 L354.56 745.48 L355.06 744.64 L355.57 743.9 L356.08 743.27 L356.58 742.74 L357.09 742.33 L357.59 742.04 L358.1 741.86 L358.6 741.8 L359.11 741.86 L359.61 742.03 L360.12 742.31 L360.62 742.7 L361.12 743.2 L361.63 743.81 L362.14 744.51 L362.64 745.31 L363.15 746.21 L363.65 747.19 L364.16 748.25 L364.66 749.38 L365.17 750.59 L365.67 751.85 L366.18 753.16 L366.68 754.51 L367.19 755.9 L367.69 757.32 L368.19 758.76 L368.7 760.2 L369.21 761.64 L369.71 763.08 L370.22 764.5 L370.72 765.89 L371.23 767.24 L371.73 768.55 L372.24 769.81 L372.74 771.02 L373.25 772.15 L373.75 773.21 L374.25 774.19 L374.76 775.09 L375.26 775.89 L375.77 776.59 L376.28 777.2 L376.78 777.7 L377.29 778.09 L377.79 778.37 L378.3 778.54 L378.8 778.6 L379.3 778.55 L379.8 778.4 L380.31 778.14 L380.81 777.79 L381.31 777.34 L381.81 776.8 L382.32 776.16 L382.82 775.44 L383.32 774.63 L383.82 773.74 L384.33 772.78 L384.83 771.75 L385.33 770.65 L385.83 769.5 L386.34 768.3 L386.84 767.05 L387.34 765.76 L387.84 764.45 L388.35 763.11 L388.85 761.76 L389.35 760.4 L389.85 759.04 L390.35 757.69 L390.86 756.35 L391.36 755.04 L391.86 753.75 L392.36 752.5 L392.87 751.3 L393.37 750.15 L393.87 749.05 L394.37 748.02 L394.88 747.06 L395.38 746.17 L395.88 745.36 L396.38 744.64 L396.89 744 L397.39 743.46 L397.89 743.01 L398.39 742.66 L398.9 742.4 L399.4 742.25 L399.9 742.2 L400.4 742.25 L400.91 742.41 L401.41 742.68 L401.92 743.05 L402.42 743.52 L402.93 744.09 L403.44 744.75 L403.94 745.5 L404.44 746.34 L404.95 747.27 L405.45 748.26 L405.96 749.33 L406.46 750.46 L406.97 751.65 L407.48 752.88 L407.98 754.15 L408.49 755.46 L408.99 756.79 L409.5 758.14 L410 759.5 L410.5 760.86 L411.01 762.21 L411.51 763.54 L412.02 764.85 L412.52 766.12 L413.03 767.35 L413.54 768.54 L414.04 769.67 L414.55 770.74 L415.05 771.73 L415.56 772.66 L416.06 773.5 L416.56 774.25 L417.07 774.91 L417.58 775.48 L418.08 775.95 L418.59 776.32 L419.09 776.59 L419.6 776.75 L420.1 776.8 L420.61 776.75 L421.11 776.59 L421.62 776.33 L422.12 775.96 L422.62 775.49 L423.13 774.93 L423.64 774.27 L424.14 773.52 L424.65 772.69 L425.15 771.78 L425.66 770.79 L426.16 769.73 L426.67 768.61 L427.17 767.44 L427.68 766.21 L428.18 764.95 L428.69 763.65 L429.19 762.33 L429.69 761 L430.2 759.65 L430.71 758.3 L431.21 756.97 L431.72 755.65 L432.22 754.35 L432.73 753.09 L433.23 751.86 L433.74 750.69 L434.24 749.57 L434.75 748.51 L435.25 747.52 L435.75 746.61 L436.26 745.78 L436.76 745.03 L437.27 744.37 L437.78 743.81 L438.28 743.34 L438.79 742.97 L439.29 742.71 L439.8 742.55 L440.3 742.5 L440.81 742.55 L441.31 742.7 L441.81 742.95 L442.32 743.31 L442.82 743.75 L443.33 744.29 L443.84 744.92 L444.34 745.64 L444.85 746.44 L445.35 747.32 L445.86 748.27 L446.36 749.28 L446.87 750.35 L447.37 751.48 L447.88 752.65 L448.38 753.87 L448.88 755.11 L449.39 756.38 L449.89 757.66 L450.4 758.95 L450.91 760.24 L451.41 761.52 L451.92 762.79 L452.42 764.03 L452.93 765.25 L453.43 766.42 L453.94 767.55 L454.44 768.62 L454.94 769.63 L455.45 770.58 L455.95 771.46 L456.46 772.26 L456.96 772.98 L457.47 773.61 L457.98 774.15 L458.48 774.59 L458.99 774.95 L459.49 775.2 L460 775.35 L460.5 775.4 L461.01 775.35 L461.51 775.21 L462.02 774.97 L462.53 774.64 L463.04 774.21 L463.54 773.7 L464.05 773.1 L464.56 772.42 L465.07 771.66 L465.57 770.83 L466.08 769.93 L466.59 768.96 L467.1 767.94 L467.6 766.86 L468.11 765.74 L468.62 764.58 L469.12 763.38 L469.63 762.16 L470.14 760.93 L470.65 759.68 L471.15 758.42 L471.66 757.17 L472.17 755.94 L472.68 754.72 L473.18 753.52 L473.69 752.36 L474.2 751.24 L474.7 750.16 L475.21 749.14 L475.72 748.17 L476.23 747.27 L476.73 746.44 L477.24 745.68 L477.75 745 L478.26 744.4 L478.76 743.89 L479.27 743.46 L479.78 743.13 L480.29 742.89 L480.79 742.75 L481.3 742.7 L481.8 742.75 L482.3 742.88 L482.8 743.11 L483.3 743.43 L483.8 743.83 L484.3 744.33 L484.8 744.9 L485.3 745.55 L485.8 746.28 L486.3 747.07 L486.8 747.94 L487.3 748.86 L487.8 749.84 L488.3 750.87 L488.8 751.95 L489.3 753.06 L489.8 754.2 L490.3 755.37 L490.8 756.56 L491.3 757.75 L491.8 758.95 L492.3 760.14 L492.8 761.33 L493.3 762.5 L493.8 763.64 L494.3 764.75 L494.8 765.83 L495.3 766.86 L495.8 767.84 L496.3 768.76 L496.8 769.63 L497.3 770.42 L497.8 771.15 L498.3 771.8 L498.8 772.37 L499.3 772.87 L499.8 773.27 L500.3 773.59 L500.8 773.82 L501.3 773.95 L501.8 774 L502.31 773.95 L502.82 773.8 L503.33 773.55 L503.84 773.19 L504.35 772.75 L504.86 772.21 L505.37 771.58 L505.88 770.86 L506.39 770.06 L506.9 769.19 L507.41 768.25 L507.92 767.24 L508.43 766.18 L508.94 765.06 L509.45 763.9 L509.96 762.7 L510.47 761.48 L510.98 760.24 L511.49 758.98 L512.01 757.72 L512.52 756.46 L513.03 755.22 L513.54 754 L514.05 752.8 L514.56 751.64 L515.07 750.53 L515.58 749.46 L516.09 748.45 L516.6 747.51 L517.11 746.64 L517.62 745.84 L518.13 745.12 L518.64 744.49 L519.15 743.95 L519.66 743.51 L520.17 743.15 L520.68 742.9 L521.19 742.75 L521.7 742.7 L522.2 742.74 L522.7 742.86 L523.2 743.06 L523.7 743.34 L524.2 743.69 L524.7 744.12 L525.2 744.63 L525.7 745.2 L526.2 745.84 L526.7 746.54 L527.2 747.3 L527.7 748.12 L528.2 748.99 L528.7 749.91 L529.2 750.87 L529.7 751.86 L530.2 752.89 L530.7 753.94 L531.2 755.02 L531.7 756.1 L532.2 757.2 L532.7 758.3 L533.2 759.4 L533.7 760.48 L534.2 761.56 L534.7 762.61 L535.2 763.64 L535.7 764.63 L536.2 765.59 L536.7 766.51 L537.2 767.38 L537.7 768.2 L538.2 768.96 L538.7 769.66 L539.2 770.3 L539.7 770.87 L540.2 771.38 L540.7 771.81 L541.2 772.16 L541.7 772.44 L542.2 772.64 L542.7 772.76 L543.2 772.8 L543.71 772.75 L544.22 772.6 L544.72 772.34 L545.23 771.99 L545.74 771.55 L546.25 771 L546.76 770.37 L547.26 769.66 L547.77 768.86 L548.28 767.99 L548.79 767.05 L549.29 766.05 L549.8 764.99 L550.31 763.89 L550.82 762.74 L551.33 761.56 L551.83 760.35 L552.34 759.13 L552.85 757.9 L553.36 756.67 L553.87 755.45 L554.37 754.24 L554.88 753.06 L555.39 751.91 L555.9 750.81 L556.41 749.75 L556.91 748.75 L557.42 747.81 L557.93 746.94 L558.44 746.14 L558.94 745.43 L559.45 744.8 L559.96 744.25 L560.47 743.81 L560.98 743.46 L561.48 743.2 L561.99 743.05 L562.5 743 L563 743.04 L563.5 743.17 L564 743.38 L564.5 743.68 L565 744.05 L565.5 744.51 L566 745.04 L566.3 745.4 L566.9 1080 L845.7 1080 L846.2 778.3 L849.14 785.2 L849.64 785.53 L850.15 785.73 L850.65 785.8 L851.16 785.73 L851.67 785.52 L852.18 785.17 L852.69 784.69 L853.2 784.07 L853.71 783.33 L854.22 782.45 L854.73 781.46 L855.24 780.36 L855.75 779.15 L856.26 777.84 L856.77 776.44 L857.28 774.96 L857.79 773.41 L858.3 771.79 L858.81 770.11 L859.32 768.4 L859.83 766.65 L860.34 764.88 L860.85 763.1 L861.36 761.32 L861.87 759.55 L862.38 757.8 L862.89 756.09 L863.4 754.41 L863.91 752.79 L864.42 751.24 L864.93 749.76 L865.44 748.36 L865.95 747.05 L866.46 745.84 L866.97 744.74 L867.48 743.75 L867.99 742.87 L868.5 742.13 L869.01 741.51 L869.52 741.03 L870.03 740.68 L870.54 740.47 L871.05 740.4 L871.55 740.46 L872.06 740.63 L872.56 740.91 L873.06 741.3 L873.57 741.8 L874.07 742.4 L874.57 743.11 L875.08 743.92 L875.58 744.82 L876.08 745.81 L876.59 746.89 L877.09 748.04 L877.6 749.26 L878.1 750.56 L878.6 751.91 L879.11 753.31 L879.61 754.75 L880.11 756.24 L880.62 757.75 L881.12 759.28 L881.62 760.83 L882.13 762.37 L882.63 763.92 L883.13 765.45 L883.64 766.96 L884.14 768.45 L884.64 769.89 L885.15 771.29 L885.65 772.64 L886.15 773.94 L886.66 775.16 L887.16 776.31 L887.67 777.39 L888.17 778.38 L888.67 779.28 L889.18 780.09 L889.68 780.8 L890.18 781.4 L890.69 781.9 L891.19 782.29 L891.69 782.57 L892.2 782.74 L892.7 782.8 L893.21 782.74 L893.71 782.54 L894.22 782.22 L894.72 781.77 L895.23 781.21 L895.73 780.52 L896.24 779.71 L896.74 778.8 L897.25 777.78 L897.75 776.66 L898.25 775.46 L898.76 774.16 L899.26 772.8 L899.77 771.36 L900.27 769.87 L900.78 768.32 L901.28 766.74 L901.79 765.13 L902.29 763.49 L902.8 761.85 L903.31 760.21 L903.81 758.57 L904.32 756.96 L904.82 755.38 L905.33 753.83 L905.83 752.34 L906.34 750.9 L906.84 749.54 L907.35 748.24 L907.85 747.04 L908.36 745.92 L908.86 744.9 L909.37 743.99 L909.87 743.18 L910.38 742.49 L910.88 741.93 L911.38 741.48 L911.89 741.16 L912.39 740.96 L912.9 740.9 L913.4 740.96 L913.9 741.12 L914.41 741.4 L914.91 741.79 L915.41 742.29 L915.91 742.89 L916.42 743.59 L916.92 744.38 L917.42 745.27 L917.92 746.25 L918.43 747.31 L918.93 748.45 L919.43 749.66 L919.93 750.92 L920.44 752.25 L920.94 753.62 L921.44 755.04 L921.94 756.49 L922.45 757.96 L922.95 759.45 L923.45 760.95 L923.95 762.45 L924.45 763.94 L924.96 765.41 L925.46 766.86 L925.96 768.28 L926.46 769.65 L926.97 770.98 L927.47 772.24 L927.97 773.45 L928.47 774.59 L928.98 775.65 L929.48 776.63 L929.98 777.52 L930.48 778.31 L930.99 779.01 L931.49 779.61 L931.99 780.11 L932.49 780.5 L933 780.78 L933.5 780.94 L934 781 L934.5 780.94 L935 780.77 L935.5 780.48 L936 780.07 L936.5 779.56 L937 778.94 L937.5 778.21 L938 777.39 L938.5 776.46 L939 775.45 L939.5 774.36 L940 773.18 L940.5 771.94 L941 770.63 L941.5 769.27 L942 767.86 L942.5 766.41 L943 764.93 L943.5 763.43 L944 761.91 L944.5 760.39 L945 758.87 L945.5 757.37 L946 755.89 L946.5 754.44 L947 753.03 L947.5 751.67 L948 750.36 L948.5 749.12 L949 747.94 L949.5 746.85 L950 745.84 L950.5 744.91 L951 744.09 L951.5 743.36 L952 742.74 L952.5 742.23 L953 741.82 L953.5 741.53 L954 741.36 L954.5 741.3 L955.01 741.36 L955.51 741.52 L956.02 741.79 L956.53 742.18 L957.04 742.66 L957.54 743.25 L958.05 743.94 L958.56 744.72 L959.07 745.6 L959.57 746.55 L960.08 747.59 L960.59 748.7 L961.1 749.88 L961.6 751.12 L962.11 752.41 L962.62 753.75 L963.12 755.12 L963.63 756.52 L964.14 757.94 L964.65 759.38 L965.15 760.82 L965.66 762.26 L966.17 763.68 L966.68 765.08 L967.18 766.45 L967.69 767.79 L968.2 769.08 L968.7 770.32 L969.21 771.5 L969.72 772.61 L970.23 773.65 L970.73 774.6 L971.24 775.48 L971.75 776.26 L972.26 776.95 L972.76 777.54 L973.27 778.02 L973.78 778.41 L974.29 778.68 L974.79 778.84 L975.3 778.9 L975.8 778.84 L976.31 778.67 L976.81 778.38 L977.32 777.99 L977.82 777.48 L978.33 776.87 L978.83 776.15 L979.34 775.34 L979.84 774.43 L980.35 773.44 L980.86 772.36 L981.36 771.21 L981.87 769.99 L982.37 768.72 L982.88 767.39 L983.38 766.01 L983.88 764.6 L984.39 763.17 L984.89 761.71 L985.4 760.25 L985.9 758.79 L986.41 757.33 L986.91 755.9 L987.42 754.49 L987.92 753.11 L988.43 751.78 L988.93 750.51 L989.44 749.29 L989.94 748.14 L990.45 747.06 L990.96 746.07 L991.46 745.16 L991.97 744.35 L992.47 743.63 L992.98 743.02 L993.48 742.51 L993.99 742.12 L994.49 741.83 L995 741.66 L995.5 741.6 L996 741.66 L996.51 741.82 L997.01 742.1 L997.52 742.48 L998.02 742.97 L998.53 743.56 L999.03 744.25 L999.54 745.03 L1000.04 745.9 L1000.55 746.86 L1001.06 747.89 L1001.56 749 L1002.07 750.17 L1002.57 751.4 L1003.08 752.68 L1003.58 754 L1004.09 755.36 L1004.59 756.74 L1005.1 758.14 L1005.6 759.55 L1006.11 760.96 L1006.61 762.36 L1007.12 763.74 L1007.62 765.1 L1008.12 766.42 L1008.63 767.7 L1009.13 768.93 L1009.64 770.1 L1010.14 771.21 L1010.65 772.24 L1011.16 773.2 L1011.66 774.07 L1012.17 774.85 L1012.67 775.54 L1013.18 776.13 L1013.68 776.62 L1014.19 777 L1014.69 777.28 L1015.2 777.44 L1015.7 777.5 L1016.21 777.45 L1016.71 777.29 L1017.22 777.04 L1017.73 776.68 L1018.24 776.22 L1018.74 775.67 L1019.25 775.02 L1019.76 774.29 L1020.27 773.47 L1020.77 772.57 L1021.28 771.59 L1021.79 770.55 L1022.3 769.44 L1022.8 768.28 L1023.31 767.07 L1023.82 765.82 L1024.32 764.53 L1024.83 763.21 L1025.34 761.87 L1025.85 760.53 L1026.35 759.17 L1026.86 757.83 L1027.37 756.49 L1027.88 755.17 L1028.38 753.88 L1028.89 752.63 L1029.4 751.42 L1029.9 750.26 L1030.41 749.15 L1030.92 748.11 L1031.43 747.13 L1031.93 746.23 L1032.44 745.41 L1032.95 744.68 L1033.46 744.03 L1033.96 743.48 L1034.47 743.02 L1034.98 742.66 L1035.49 742.41 L1035.99 742.25 L1036.5 742.2 L1037 742.25 L1037.5 742.4 L1038 742.64 L1038.5 742.98 L1039 743.41 L1039.5 743.94 L1040 744.55 L1040.5 745.25 L1041 746.03 L1041.5 746.88 L1042 747.81 L1042.5 748.8 L1043 749.85 L1043.5 750.95 L1044 752.1 L1044.5 753.29 L1045 754.51 L1045.5 755.76 L1046 757.03 L1046.5 758.31 L1047 759.59 L1047.5 760.87 L1048 762.14 L1048.5 763.39 L1049 764.61 L1049.5 765.8 L1050 766.95 L1050.5 768.05 L1051 769.1 L1051.5 770.09 L1052 771.02 L1052.5 771.87 L1053 772.65 L1053.5 773.35 L1054 773.96 L1054.5 774.49 L1055 774.92 L1055.5 775.26 L1056 775.5 L1056.5 775.65 L1057 775.7 L1057.51 775.65 L1058.01 775.5 L1058.52 775.24 L1059.02 774.89 L1059.53 774.44 L1060.03 773.89 L1060.54 773.25 L1061.04 772.53 L1061.55 771.72 L1062.05 770.84 L1062.56 769.88 L1063.06 768.86 L1063.57 767.77 L1064.07 766.64 L1064.58 765.45 L1065.08 764.23 L1065.59 762.98 L1066.09 761.7 L1066.6 760.4 L1067.1 759.1 L1067.61 757.8 L1068.11 756.5 L1068.62 755.22 L1069.12 753.97 L1069.62 752.75 L1070.13 751.56 L1070.63 750.43 L1071.14 749.34 L1071.64 748.32 L1072.15 747.36 L1072.65 746.48 L1073.16 745.67 L1073.66 744.95 L1074.17 744.31 L1074.67 743.76 L1075.18 743.31 L1075.68 742.96 L1076.19 742.7 L1076.69 742.55 L1077.2 742.5 L1077.71 742.55 L1078.22 742.71 L1078.73 742.96 L1079.24 743.32 L1079.75 743.78 L1080.26 744.33 L1080.77 744.98 L1081.28 745.71 L1081.79 746.52 L1082.3 747.42 L1082.81 748.38 L1083.32 749.41 L1083.83 750.5 L1084.34 751.64 L1084.85 752.83 L1085.36 754.05 L1085.87 755.3 L1086.38 756.57 L1086.89 757.86 L1087.41 759.14 L1087.92 760.43 L1088.43 761.7 L1088.94 762.95 L1089.45 764.17 L1089.96 765.36 L1090.47 766.5 L1090.98 767.59 L1091.49 768.62 L1092 769.58 L1092.51 770.48 L1093.02 771.29 L1093.53 772.02 L1094.04 772.67 L1094.55 773.22 L1095.06 773.68 L1095.57 774.04 L1096.08 774.29 L1096.59 774.45 L1097.1 774.5 L1097.6 774.45 L1098.1 774.31 L1098.61 774.08 L1099.11 773.76 L1099.61 773.35 L1100.11 772.85 L1100.62 772.27 L1101.12 771.61 L1101.62 770.87 L1102.12 770.06 L1102.63 769.18 L1103.13 768.24 L1103.63 767.24 L1104.13 766.2 L1104.64 765.1 L1105.14 763.97 L1105.64 762.81 L1106.14 761.63 L1106.65 760.42 L1107.15 759.21 L1107.65 757.99 L1108.15 756.78 L1108.66 755.57 L1109.16 754.39 L1109.66 753.23 L1110.16 752.1 L1110.67 751 L1111.17 749.96 L1111.67 748.96 L1112.17 748.02 L1112.68 747.14 L1113.18 746.33 L1113.68 745.59 L1114.18 744.93 L1114.69 744.35 L1115.19 743.85 L1115.69 743.44 L1116.19 743.12 L1116.7 742.89 L1117.2 742.75 L1117.7 742.7 L1118.21 742.75 L1118.71 742.89 L1119.22 743.12 L1119.72 743.45 L1120.23 743.86 L1120.73 744.37 L1121.24 744.95 L1121.74 745.62 L1122.25 746.37 L1122.75 747.18 L1123.26 748.06 L1123.76 749.01 L1124.27 750.01 L1124.77 751.05 L1125.28 752.14 L1125.78 753.27 L1126.29 754.43 L1126.79 755.61 L1127.3 756.8 L1127.8 758 L1128.31 759.2 L1128.81 760.39 L1129.32 761.57 L1129.82 762.73 L1130.33 763.86 L1130.83 764.95 L1131.34 765.99 L1131.84 766.99 L1132.35 767.94 L1132.85 768.82 L1133.36 769.63 L1133.86 770.38 L1134.37 771.05 L1134.87 771.63 L1135.38 772.14 L1135.88 772.55 L1136.38 772.88 L1136.89 773.11 L1137.39 773.25 L1137.9 773.3 L1138.41 773.25 L1138.91 773.11 L1139.41 772.88 L1139.92 772.55 L1140.43 772.14 L1140.93 771.63 L1141.43 771.05 L1141.94 770.38 L1142.45 769.63 L1142.95 768.82 L1143.46 767.94 L1143.96 766.99 L1144.47 765.99 L1144.97 764.95 L1145.47 763.86 L1145.98 762.73 L1146.49 761.57 L1146.99 760.39 L1147.49 759.2 L1148 758 L1148.51 756.8 L1149.01 755.61 L1149.51 754.43 L1150.02 753.27 L1150.53 752.14 L1151.03 751.05 L1151.54 750.01 L1152.04 749.01 L1152.55 748.06 L1153.05 747.18 L1153.55 746.37 L1154.06 745.62 L1154.57 744.95 L1155.07 744.37 L1155.57 743.86 L1156.08 743.45 L1156.59 743.12 L1157.09 742.89 L1157.59 742.75 L1158.1 742.7 L1158.61 742.74 L1159.11 742.87 L1159.62 743.09 L1160.13 743.39 L1160.64 743.78 L1161.14 744.24 L1161.65 744.79 L1162.16 745.4 L1162.67 746.09 L1163.17 746.85 L1163.68 747.67 L1164.19 748.55 L1164.7 749.48 L1165.2 750.46 L1165.71 751.48 L1166.22 752.53 L1166.72 753.62 L1167.23 754.72 L1167.74 755.85 L1168.25 756.98 L1168.75 758.12 L1169.26 759.25 L1169.77 760.38 L1170.28 761.48 L1170.78 762.57 L1171.29 763.62 L1171.8 764.64 L1172.3 765.62 L1172.81 766.55 L1173.32 767.43 L1173.83 768.25 L1174.33 769.01 L1174.84 769.7 L1175.35 770.31 L1175.86 770.86 L1176.36 771.32 L1176.87 771.71 L1177 771.78 L1177.6 1080 L1456.9 1080 L1457.5 759.41 L1457.62 759 L1458.13 757.3 L1458.64 755.64 L1459.15 754.01 L1459.66 752.44 L1460.17 750.93 L1460.68 749.49 L1461.19 748.13 L1461.7 746.86 L1462.21 745.68 L1462.72 744.61 L1463.23 743.65 L1463.74 742.8 L1464.25 742.08 L1464.76 741.48 L1465.27 741.01 L1465.78 740.67 L1466.29 740.47 L1466.8 740.4 L1467.3 740.46 L1467.8 740.65 L1468.31 740.97 L1468.81 741.41 L1469.31 741.97 L1469.81 742.65 L1470.32 743.44 L1470.82 744.34 L1471.32 745.35 L1471.82 746.45 L1472.33 747.65 L1472.83 748.93 L1473.33 750.28 L1473.83 751.71 L1474.34 753.19 L1474.84 754.73 L1475.34 756.31 L1475.84 757.93 L1476.35 759.57 L1476.85 761.22 L1477.35 762.88 L1477.85 764.53 L1478.36 766.17 L1478.86 767.79 L1479.36 769.37 L1479.86 770.91 L1480.37 772.39 L1480.87 773.82 L1481.37 775.17 L1481.87 776.45 L1482.38 777.65 L1482.88 778.75 L1483.38 779.76 L1483.88 780.66 L1484.39 781.45 L1484.89 782.13 L1485.39 782.69 L1485.89 783.13 L1486.4 783.45 L1486.9 783.64 L1487.4 783.7 L1487.9 783.64 L1488.41 783.45 L1488.91 783.14 L1489.42 782.71 L1489.92 782.16 L1490.43 781.5 L1490.93 780.72 L1491.44 779.84 L1491.94 778.86 L1492.45 777.78 L1492.95 776.6 L1493.46 775.35 L1493.96 774.02 L1494.47 772.63 L1494.97 771.17 L1495.48 769.67 L1495.98 768.12 L1496.49 766.54 L1496.99 764.93 L1497.5 763.31 L1498 761.69 L1498.51 760.07 L1499.01 758.46 L1499.52 756.88 L1500.02 755.33 L1500.53 753.83 L1501.03 752.37 L1501.54 750.98 L1502.04 749.65 L1502.55 748.4 L1503.05 747.22 L1503.56 746.14 L1504.06 745.16 L1504.57 744.28 L1505.07 743.5 L1505.58 742.84 L1506.08 742.29 L1506.59 741.86 L1507.09 741.55 L1507.6 741.36 L1508.1 741.3 L1508.6 741.36 L1509.1 741.54 L1509.61 741.83 L1510.11 742.24 L1510.61 742.76 L1511.11 743.39 L1511.62 744.12 L1512.12 744.96 L1512.62 745.89 L1513.12 746.92 L1513.63 748.03 L1514.13 749.21 L1514.63 750.47 L1515.13 751.8 L1515.64 753.18 L1516.14 754.61 L1516.64 756.07 L1517.14 757.57 L1517.65 759.09 L1518.15 760.63 L1518.65 762.17 L1519.15 763.71 L1519.66 765.23 L1520.16 766.73 L1520.66 768.19 L1521.16 769.62 L1521.67 771 L1522.17 772.33 L1522.67 773.59 L1523.17 774.77 L1523.68 775.88 L1524.18 776.91 L1524.68 777.84 L1525.18 778.68 L1525.69 779.41 L1526.19 780.04 L1526.69 780.56 L1527.19 780.97 L1527.7 781.26 L1528.2 781.44 L1528.7 781.5 L1529.2 781.44 L1529.7 781.28 L1530.21 781 L1530.71 780.61 L1531.21 780.12 L1531.71 779.52 L1532.22 778.83 L1532.72 778.03 L1533.22 777.15 L1533.72 776.17 L1534.23 775.12 L1534.73 773.99 L1535.23 772.79 L1535.73 771.52 L1536.24 770.21 L1536.74 768.84 L1537.24 767.43 L1537.74 765.99 L1538.25 764.52 L1538.75 763.04 L1539.25 761.55 L1539.75 760.06 L1540.25 758.58 L1540.76 757.11 L1541.26 755.67 L1541.76 754.26 L1542.26 752.89 L1542.77 751.58 L1543.27 750.31 L1543.77 749.11 L1544.27 747.98 L1544.78 746.93 L1545.28 745.95 L1545.78 745.07 L1546.28 744.27 L1546.79 743.58 L1547.29 742.98 L1547.79 742.49 L1548.29 742.1 L1548.8 741.82 L1549.3 741.66 L1549.8 741.6 L1550.3 741.66 L1550.81 741.82 L1551.31 742.1 L1551.82 742.49 L1552.32 742.98 L1552.83 743.58 L1553.33 744.28 L1553.84 745.08 L1554.34 745.96 L1554.85 746.94 L1555.35 747.99 L1555.86 749.12 L1556.36 750.32 L1556.87 751.58 L1557.37 752.89 L1557.88 754.24 L1558.38 755.64 L1558.89 757.06 L1559.39 758.51 L1559.9 759.97 L1560.4 761.43 L1560.91 762.89 L1561.41 764.34 L1561.92 765.76 L1562.42 767.16 L1562.93 768.51 L1563.43 769.82 L1563.94 771.08 L1564.44 772.28 L1564.95 773.41 L1565.45 774.46 L1565.96 775.44 L1566.46 776.32 L1566.97 777.12 L1567.47 777.82 L1567.98 778.42 L1568.48 778.91 L1568.99 779.3 L1569.49 779.58 L1570 779.74 L1570.5 779.8 L1571 779.74 L1571.5 779.58 L1572.01 779.3 L1572.51 778.91 L1573.01 778.42 L1573.51 777.83 L1574.02 777.13 L1574.52 776.34 L1575.02 775.46 L1575.52 774.49 L1576.03 773.44 L1576.53 772.32 L1577.03 771.13 L1577.53 769.88 L1578.04 768.57 L1578.54 767.22 L1579.04 765.83 L1579.54 764.42 L1580.05 762.98 L1580.55 761.53 L1581.05 760.07 L1581.55 758.62 L1582.06 757.18 L1582.56 755.77 L1583.06 754.38 L1583.56 753.03 L1584.07 751.72 L1584.57 750.47 L1585.07 749.28 L1585.57 748.16 L1586.08 747.11 L1586.58 746.14 L1587.08 745.26 L1587.58 744.47 L1588.09 743.77 L1588.59 743.18 L1589.09 742.69 L1589.59 742.3 L1590.1 742.02 L1590.6 741.86 L1591.1 741.8 L1591.61 741.85 L1592.11 742.01 L1592.62 742.28 L1593.13 742.64 L1593.64 743.11 L1594.14 743.68 L1594.65 744.34 L1595.16 745.1 L1595.67 745.94 L1596.17 746.86 L1596.68 747.86 L1597.19 748.93 L1597.7 750.06 L1598.2 751.25 L1598.71 752.5 L1599.22 753.78 L1599.72 755.1 L1600.23 756.45 L1600.74 757.82 L1601.25 759.21 L1601.75 760.59 L1602.26 761.98 L1602.77 763.35 L1603.28 764.7 L1603.78 766.02 L1604.29 767.3 L1604.8 768.55 L1605.3 769.74 L1605.81 770.87 L1606.32 771.94 L1606.83 772.94 L1607.33 773.86 L1607.84 774.7 L1608.35 775.46 L1608.86 776.12 L1609.36 776.69 L1609.87 777.16 L1610.38 777.52 L1610.89 777.79 L1611.39 777.95 L1611.9 778 L1612.41 777.94 L1612.91 777.78 L1613.41 777.51 L1613.92 777.12 L1614.43 776.64 L1614.93 776.05 L1615.43 775.36 L1615.94 774.58 L1616.45 773.71 L1616.95 772.76 L1617.46 771.73 L1617.96 770.62 L1618.47 769.45 L1618.97 768.23 L1619.47 766.95 L1619.98 765.63 L1620.49 764.28 L1620.99 762.9 L1621.49 761.5 L1622 760.1 L1622.51 758.7 L1623.01 757.3 L1623.51 755.92 L1624.02 754.57 L1624.53 753.25 L1625.03 751.97 L1625.54 750.75 L1626.04 749.58 L1626.55 748.47 L1627.05 747.44 L1627.55 746.49 L1628.06 745.62 L1628.57 744.84 L1629.07 744.15 L1629.57 743.56 L1630.08 743.08 L1630.59 742.69 L1631.09 742.42 L1631.59 742.26 L1632.1 742.2 L1632.6 742.25 L1633.1 742.4 L1633.6 742.65 L1634.1 742.99 L1634.6 743.44 L1635.1 743.97 L1635.6 744.59 L1636.1 745.3 L1636.6 746.1 L1637.1 746.97 L1637.6 747.91 L1638.1 748.91 L1638.6 749.98 L1639.1 751.1 L1639.6 752.28 L1640.1 753.49 L1640.6 754.73 L1641.1 756 L1641.6 757.29 L1642.1 758.6 L1642.6 759.9 L1643.1 761.21 L1643.6 762.5 L1644.1 763.77 L1644.6 765.01 L1645.1 766.22 L1645.6 767.4 L1646.1 768.52 L1646.6 769.59 L1647.1 770.59 L1647.6 771.53 L1648.1 772.4 L1648.6 773.2 L1649.1 773.91 L1649.6 774.53 L1650.1 775.06 L1650.6 775.51 L1651.1 775.85 L1651.6 776.1 L1652.1 776.25 L1652.6 776.3 L1653.11 776.25 L1653.62 776.09 L1654.13 775.83 L1654.64 775.47 L1655.15 775.01 L1655.66 774.46 L1656.17 773.81 L1656.68 773.07 L1657.19 772.25 L1657.7 771.35 L1658.21 770.38 L1658.72 769.33 L1659.23 768.23 L1659.74 767.07 L1660.25 765.87 L1660.76 764.62 L1661.27 763.35 L1661.78 762.04 L1662.29 760.73 L1662.8 759.4 L1663.31 758.07 L1663.82 756.76 L1664.33 755.45 L1664.84 754.18 L1665.35 752.93 L1665.86 751.73 L1666.37 750.57 L1666.88 749.47 L1667.39 748.42 L1667.9 747.45 L1668.41 746.55 L1668.92 745.73 L1669.43 744.99 L1669.94 744.34 L1670.45 743.79 L1670.96 743.33 L1671.47 742.97 L1671.98 742.71 L1672.49 742.55 L1673 742.5 L1673.5 742.55 L1674.01 742.7 L1674.51 742.95 L1675.01 743.3 L1675.51 743.74 L1676.01 744.27 L1676.52 744.89 L1677.02 745.6 L1677.52 746.39 L1678.03 747.26 L1678.53 748.2 L1679.03 749.2 L1679.53 750.26 L1680.03 751.37 L1680.54 752.53 L1681.04 753.73 L1681.54 754.96 L1682.05 756.21 L1682.55 757.48 L1683.05 758.75 L1683.55 760.02 L1684.06 761.29 L1684.56 762.54 L1685.06 763.77 L1685.56 764.97 L1686.07 766.13 L1686.57 767.24 L1687.07 768.3 L1687.57 769.3 L1688.07 770.24 L1688.58 771.11 L1689.08 771.9 L1689.58 772.61 L1690.09 773.23 L1690.59 773.76 L1691.09 774.2 L1691.59 774.55 L1692.09 774.8 L1692.6 774.95 L1693.1 775 L1693.61 774.95 L1694.12 774.8 L1694.62 774.55 L1695.13 774.21 L1695.64 773.77 L1696.14 773.24 L1696.65 772.62 L1697.16 771.92 L1697.67 771.13 L1698.17 770.27 L1698.68 769.34 L1699.19 768.34 L1699.7 767.29 L1700.2 766.18 L1700.71 765.03 L1701.22 763.84 L1701.73 762.62 L1702.23 761.38 L1702.74 760.12 L1703.25 758.85 L1703.76 757.58 L1704.27 756.32 L1704.77 755.08 L1705.28 753.86 L1705.79 752.67 L1706.3 751.52 L1706.8 750.41 L1707.31 749.36 L1707.82 748.36 L1708.33 747.43 L1708.83 746.57 L1709.34 745.78 L1709.85 745.08 L1710.36 744.46 L1710.86 743.93 L1711.37 743.49 L1711.88 743.15 L1712.38 742.9 L1712.89 742.75 L1713.4 742.7 L1713.9 742.75 L1714.41 742.89 L1714.91 743.13 L1715.41 743.46 L1715.91 743.88 L1716.41 744.38 L1716.92 744.98 L1717.42 745.65 L1717.92 746.4 L1718.43 747.23 L1718.93 748.12 L1719.43 749.07 L1719.93 750.08 L1720.43 751.14 L1720.94 752.24 L1721.44 753.38 L1721.94 754.54 L1722.45 755.73 L1722.95 756.94 L1723.45 758.15 L1723.95 759.36 L1724.46 760.57 L1724.96 761.76 L1725.46 762.92 L1725.96 764.06 L1726.47 765.16 L1726.97 766.22 L1727.47 767.23 L1727.97 768.18 L1728.47 769.07 L1728.98 769.9 L1729.48 770.65 L1729.98 771.32 L1730.49 771.92 L1730.99 772.42 L1731.49 772.84 L1731.99 773.17 L1732.49 773.41 L1733 773.55 L1733.5 773.6 L1734.01 773.55 L1734.52 773.4 L1735.03 773.15 L1735.54 772.8 L1736.05 772.36 L1736.56 771.83 L1737.07 771.21 L1737.58 770.5 L1738.09 769.71 L1738.6 768.85 L1739.11 767.92 L1739.62 766.93 L1740.13 765.88 L1740.64 764.77 L1741.15 763.63 L1741.66 762.45 L1742.17 761.24 L1742.68 760.01 L1743.19 758.77 L1743.71 757.53 L1744.22 756.29 L1744.73 755.06 L1745.24 753.85 L1745.75 752.67 L1746.26 751.53 L1746.77 750.43 L1747.28 749.37 L1747.79 748.38 L1748.3 747.45 L1748.81 746.59 L1749.32 745.8 L1749.83 745.09 L1750.34 744.47 L1750.85 743.94 L1751.36 743.5 L1751.87 743.15 L1752.38 742.9 L1752.89 742.75 L1753.4 742.7 L1753.9 742.74 L1754.4 742.87 L1754.91 743.08 L1755.41 743.37 L1755.91 743.74 L1756.41 744.19 L1756.92 744.72 L1757.42 745.32 L1757.92 745.98 L1758.42 746.72 L1758.93 747.51 L1759.43 748.37 L1759.93 749.27 L1760.43 750.23 L1760.94 751.22 L1761.44 752.25 L1761.94 753.31 L1762.44 754.4 L1762.95 755.51 L1763.45 756.63 L1763.95 757.75 L1764.45 758.87 L1764.95 759.99 L1765.46 761.1 L1765.96 762.19 L1766.46 763.25 L1766.96 764.28 L1767.47 765.27 L1767.97 766.23 L1768.47 767.13 L1768.97 767.99 L1769.48 768.78 L1769.98 769.52 L1770.48 770.18 L1770.98 770.78 L1771.49 771.31 L1771.99 771.76 L1772.49 772.13 L1772.99 772.42 L1773.5 772.63 L1774 772.76 L1774.5 772.8 L1775 772.75 L1775.5 772.61 L1776 772.37 L1776.5 772.03 L1777 771.6 L1777.5 771.09 L1778 770.49 L1778.5 769.8 L1779 769.04 L1779.5 768.21 L1780 767.31 L1780.5 766.34 L1781 765.32 L1781.5 764.26 L1782 763.15 L1782.5 762.01 L1783 760.84 L1783.5 759.65 L1784 758.45 L1784.5 757.25 L1785 756.05 L1785.5 754.86 L1786 753.69 L1786.5 752.55 L1787 751.44 L1787.2 751.01 L1787.8 1080 L1924 1080" fill="none" stroke="#0000ff" stroke-width="10.3" stroke-linecap="butt" stroke-linejoin="round" shape-rendering="crispEdges"/>
<path d="M239.5 907 L239.9 895.09 L240.3 883.18 L240.7 871.27 L241.1 859.36 L241.5 847.45 L241.9 835.54 L242.3 823.62 L242.7 811.71 L243.1 799.8 L243.5 787.89 L243.9 775.98 L244.3 773.6 L244.7 773.6 L245.1 773.6 L245.5 773.6 L245.9 773.6 L246.3 773.6 L246.7 773.6 L247.1 773.6 L247.5 773.6 L247.9 773.6 L248.3 773.6 L248.7 773.6 L249.1 773.6 L249.5 774.08 L249.9 775.2 L250.3 776.28 L250.7 777.31 L251.1 778.29 L251.5 779.21 L251.9 780.06 L252.3 780.83 L252.7 781.53 L253.1 782.14 L253.5 782.67 L253.9 783.1 L254.3 783.44 L254.7 783.7 L255.1 783.86 L255.5 783.93 L255.9 783.92 L256.3 783.83 L256.7 783.66 L257.1 783.41 L257.5 783.09 L257.9 782.7 L258.3 782.23 L258.7 781.7 L259.1 781.1 L259.5 780.43 L259.9 779.7 L260.3 778.92 L260.7 778.08 L261.1 777.18 L261.5 776.24 L261.9 775.24 L262.3 774.21 L262.7 773.13 L263.1 772.02 L263.5 770.88 L263.9 769.71 L264.3 768.51 L264.7 767.29 L265.1 766.06 L265.5 764.82 L265.9 763.56 L266.3 762.31 L266.7 761.06 L267.1 759.81 L267.5 758.57 L267.9 757.35 L268.3 756.15 L268.7 754.97 L269.1 753.82 L269.5 752.7 L269.9 751.61 L270.3 750.57 L270.7 749.56 L271.1 748.61 L271.5 747.71 L271.9 746.85 L272.3 746.06 L272.7 745.33 L273.1 744.66 L273.5 744.05 L273.9 743.51 L274.3 743.04 L274.7 742.65 L275.1 742.32 L275.5 742.07 L275.9 741.89 L276.3 741.79 L276.7 741.75 L277.1 741.79 L277.5 741.89 L277.9 742.06 L278.3 742.29 L278.7 742.59 L279.1 742.95 L279.5 743.37 L279.9 743.85 L280.3 744.39 L280.7 744.99 L281.1 745.63 L281.5 746.33 L281.9 747.08 L282.3 747.87 L282.7 748.71 L283.1 749.59 L283.5 750.51 L283.9 751.47 L284.3 752.46 L284.7 753.48 L285.1 754.52 L285.5 755.59 L285.9 756.68 L286.3 757.78 L286.7 758.9 L287.1 760.02 L287.5 761.15 L287.9 762.29 L288.3 763.42 L288.7 764.54 L289.1 765.66 L289.5 766.77 L289.9 767.85 L290.3 768.92 L290.7 769.97 L291.1 770.98 L291.5 771.97 L291.9 772.93 L292.3 773.84 L292.7 774.72 L293.1 775.56 L293.5 776.34 L293.9 777.09 L294.3 777.78 L294.7 778.41 L295.1 779 L295.5 779.52 L295.9 779.99 L296.3 780.39 L296.7 780.74 L297.1 781.02 L297.5 781.23 L297.9 781.38 L298.3 781.46 L298.7 781.47 L299.1 781.4 L299.5 781.26 L299.9 781.05 L300.3 780.76 L300.7 780.4 L301.1 779.97 L301.5 779.47 L301.9 778.9 L302.3 778.27 L302.7 777.57 L303.1 776.82 L303.5 776 L303.9 775.13 L304.3 774.21 L304.7 773.24 L305.1 772.23 L305.5 771.18 L305.9 770.09 L306.3 768.96 L306.7 767.81 L307.1 766.64 L307.5 765.44 L307.9 764.23 L308.3 763.01 L308.7 761.78 L309.1 760.55 L309.5 759.33 L309.9 758.11 L310.3 756.9 L310.7 755.72 L311.1 754.55 L311.5 753.41 L311.9 752.31 L312.3 751.24 L312.7 750.2 L313.1 749.22 L313.5 748.27 L313.9 747.38 L314.3 746.55 L314.7 745.77 L315.1 745.06 L315.5 744.41 L315.9 743.83 L316.3 743.31 L316.7 742.87 L317.1 742.5 L317.5 742.21 L317.9 741.99 L318.3 741.84 L318.7 741.77 L319.1 741.78 L319.5 741.85 L319.9 741.99 L320.3 742.2 L320.7 742.48 L321.1 742.83 L321.5 743.23 L321.9 743.7 L322.3 744.23 L322.7 744.82 L323.1 745.46 L323.5 746.16 L323.9 746.91 L324.3 747.71 L324.7 748.55 L325.1 749.44 L325.5 750.36 L325.9 751.33 L326.3 752.32 L326.7 753.35 L327.1 754.4 L327.5 755.48 L327.9 756.57 L328.3 757.68 L328.7 758.81 L329.1 759.93 L329.5 761.07 L329.9 762.2 L330.3 763.33 L330.7 764.45 L331.1 765.55 L331.5 766.64 L331.9 767.71 L332.3 768.76 L332.7 769.78 L333.1 770.77 L333.5 771.72 L333.9 772.63 L334.3 773.5 L334.7 774.33 L335.1 775.11 L335.5 775.84 L335.9 776.51 L336.3 777.13 L336.7 777.69 L337.1 778.19 L337.5 778.63 L337.9 779.01 L338.3 779.31 L338.7 779.56 L339.1 779.73 L339.5 779.83 L339.9 779.87 L340.3 779.83 L340.7 779.72 L341.1 779.53 L341.5 779.28 L341.9 778.96 L342.3 778.57 L342.7 778.11 L343.1 777.59 L343.5 777.01 L343.9 776.36 L344.3 775.66 L344.7 774.9 L345.1 774.09 L345.5 773.23 L345.9 772.32 L346.3 771.37 L346.7 770.38 L347.1 769.35 L347.5 768.29 L347.9 767.21 L348.3 766.1 L348.7 764.97 L349.1 763.82 L349.5 762.67 L349.9 761.5 L350.3 760.34 L350.7 759.17 L351.1 758.02 L351.5 756.87 L351.9 755.74 L352.3 754.63 L352.7 753.55 L353.1 752.49 L353.5 751.46 L353.9 750.48 L354.3 749.53 L354.7 748.62 L355.1 747.77 L355.5 746.97 L355.9 746.22 L356.3 745.52 L356.7 744.89 L357.1 744.32 L357.5 743.82 L357.9 743.38 L358.3 743.02 L358.7 742.72 L359.1 742.5 L359.5 742.34 L359.9 742.26 L360.3 742.26 L360.7 742.32 L361.1 742.45 L361.5 742.66 L361.9 742.93 L362.3 743.27 L362.7 743.67 L363.1 744.14 L363.5 744.66 L363.9 745.25 L364.3 745.9 L364.7 746.6 L365.1 747.35 L365.5 748.15 L365.9 748.99 L366.3 749.88 L366.7 750.81 L367.1 751.77 L367.5 752.77 L367.9 753.8 L368.3 754.85 L368.7 755.92 L369.1 757.01 L369.5 758.11 L369.9 759.22 L370.3 760.33 L370.7 761.45 L371.1 762.55 L371.5 763.66 L371.9 764.74 L372.3 765.81 L372.7 766.86 L373.1 767.89 L373.5 768.88 L373.9 769.85 L374.3 770.77 L374.7 771.66 L375.1 772.5 L375.5 773.29 L375.9 774.03 L376.3 774.72 L376.7 775.35 L377.1 775.93 L377.5 776.44 L377.9 776.89 L378.3 777.27 L378.7 777.59 L379.1 777.84 L379.5 778.02 L379.9 778.13 L380.3 778.17 L380.7 778.15 L381.1 778.07 L381.5 777.92 L381.9 777.7 L382.3 777.42 L382.7 777.09 L383.1 776.69 L383.5 776.24 L383.9 775.73 L384.3 775.17 L384.7 774.55 L385.1 773.89 L385.5 773.18 L385.9 772.42 L386.3 771.63 L386.7 770.79 L387.1 769.91 L387.5 769.01 L387.9 768.07 L388.3 767.1 L388.7 766.11 L389.1 765.1 L389.5 764.08 L389.9 763.04 L390.3 761.99 L390.7 760.93 L391.1 759.88 L391.5 758.82 L391.9 757.77 L392.3 756.73 L392.7 755.7 L393.1 754.68 L393.5 753.69 L393.9 752.72 L394.3 751.78 L394.7 750.86 L395.1 749.98 L395.5 749.14 L395.9 748.34 L396.3 747.58 L396.7 746.86 L397.1 746.19 L397.5 745.58 L397.9 745.01 L398.3 744.51 L398.7 744.05 L399.1 743.66 L399.5 743.33 L399.9 743.05 L400.3 742.85 L400.7 742.7 L401.1 742.62 L401.5 742.6 L401.9 742.65 L402.3 742.76 L402.7 742.94 L403.1 743.18 L403.5 743.49 L403.9 743.85 L404.3 744.28 L404.7 744.76 L405.1 745.3 L405.5 745.9 L405.9 746.54 L406.3 747.24 L406.7 747.98 L407.1 748.76 L407.5 749.59 L407.9 750.45 L408.3 751.35 L408.7 752.28 L409.1 753.24 L409.5 754.23 L409.9 755.23 L410.3 756.25 L410.7 757.28 L411.1 758.32 L411.5 759.37 L411.9 760.42 L412.3 761.46 L412.7 762.5 L413.1 763.53 L413.5 764.54 L413.9 765.53 L414.3 766.5 L414.7 767.44 L415.1 768.36 L415.5 769.23 L415.9 770.08 L416.3 770.88 L416.7 771.63 L417.1 772.34 L417.5 773 L417.9 773.61 L418.3 774.16 L418.7 774.66 L419.1 775.09 L419.5 775.47 L419.9 775.78 L420.3 776.03 L420.7 776.22 L421.1 776.34 L421.5 776.39 L421.9 776.38 L422.3 776.3 L422.7 776.15 L423.1 775.95 L423.5 775.68 L423.9 775.35 L424.3 774.95 L424.7 774.5 L425.1 774 L425.5 773.44 L425.9 772.82 L426.3 772.16 L426.7 771.45 L427.1 770.69 L427.5 769.89 L427.9 769.05 L428.3 768.17 L428.7 767.27 L429.1 766.33 L429.5 765.37 L429.9 764.38 L430.3 763.38 L430.7 762.36 L431.1 761.33 L431.5 760.3 L431.9 759.26 L432.3 758.22 L432.7 757.19 L433.1 756.16 L433.5 755.15 L433.9 754.16 L434.3 753.19 L434.7 752.24 L435.1 751.32 L435.5 750.43 L435.9 749.58 L436.3 748.76 L436.7 747.99 L437.1 747.26 L437.5 746.58 L437.9 745.96 L438.3 745.38 L438.7 744.86 L439.1 744.4 L439.5 744 L439.9 743.65 L440.3 743.38 L440.7 743.16 L441.1 743.01 L441.5 742.92 L441.9 742.9 L442.3 742.94 L442.7 743.05 L443.1 743.21 L443.5 743.44 L443.9 743.73 L444.3 744.08 L444.7 744.48 L445.1 744.94 L445.5 745.45 L445.9 746.02 L446.3 746.63 L446.7 747.29 L447.1 748 L447.5 748.74 L447.9 749.53 L448.3 750.35 L448.7 751.21 L449.1 752.09 L449.5 753.01 L449.9 753.94 L450.3 754.89 L450.7 755.86 L451.1 756.85 L451.5 757.84 L451.9 758.83 L452.3 759.83 L452.7 760.82 L453.1 761.81 L453.5 762.79 L453.9 763.75 L454.3 764.69 L454.7 765.61 L455.1 766.51 L455.5 767.38 L455.9 768.21 L456.3 769.01 L456.7 769.77 L457.1 770.49 L457.5 771.17 L457.9 771.79 L458.3 772.37 L458.7 772.9 L459.1 773.37 L459.5 773.78 L459.9 774.14 L460.3 774.43 L460.7 774.67 L461.1 774.85 L461.5 774.96 L461.9 775.01 L462.3 775.01 L462.7 774.94 L463.1 774.81 L463.5 774.63 L463.9 774.39 L464.3 774.09 L464.7 773.74 L465.1 773.33 L465.5 772.87 L465.9 772.37 L466.3 771.81 L466.7 771.21 L467.1 770.56 L467.5 769.88 L467.9 769.15 L468.3 768.39 L468.7 767.59 L469.1 766.76 L469.5 765.91 L469.9 765.03 L470.3 764.13 L470.7 763.2 L471.1 762.27 L471.5 761.32 L471.9 760.36 L472.3 759.4 L472.7 758.44 L473.1 757.48 L473.5 756.52 L473.9 755.57 L474.3 754.64 L474.7 753.72 L475.1 752.82 L475.5 751.94 L475.9 751.09 L476.3 750.27 L476.7 749.47 L477.1 748.72 L477.5 748 L477.9 747.32 L478.3 746.68 L478.7 746.09 L479.1 745.55 L479.5 745.05 L479.9 744.61 L480.3 744.22 L480.7 743.88 L481.1 743.61 L481.5 743.38 L481.9 743.22 L482.3 743.11 L482.7 743.07 L483.1 743.08 L483.5 743.15 L483.9 743.27 L484.3 743.46 L484.7 743.7 L485.1 743.99 L485.5 744.34 L485.9 744.74 L486.3 745.19 L486.7 745.69 L487.1 746.23 L487.5 746.82 L487.9 747.46 L488.3 748.13 L488.7 748.85 L489.1 749.59 L489.5 750.37 L489.9 751.18 L490.3 752.02 L490.7 752.88 L491.1 753.76 L491.5 754.66 L491.9 755.57 L492.3 756.5 L492.7 757.43 L493.1 758.36 L493.5 759.3 L493.9 760.23 L494.3 761.15 L494.7 762.07 L495.1 762.97 L495.5 763.85 L495.9 764.72 L496.3 765.56 L496.7 766.37 L497.1 767.16 L497.5 767.91 L497.9 768.62 L498.3 769.3 L498.7 769.93 L499.1 770.53 L499.5 771.07 L499.9 771.57 L500.3 772.02 L500.7 772.41 L501.1 772.76 L501.5 773.05 L501.9 773.28 L502.3 773.45 L502.7 773.57 L503.1 773.63 L503.5 773.63 L503.9 773.56 L504.3 773.44 L504.7 773.26 L505.1 773.02 L505.5 772.72 L505.9 772.37 L506.3 771.96 L506.7 771.49 L507.1 770.98 L507.5 770.41 L507.9 769.8 L508.3 769.14 L508.7 768.44 L509.1 767.71 L509.5 766.93 L509.9 766.12 L510.3 765.28 L510.7 764.41 L511.1 763.52 L511.5 762.6 L511.9 761.67 L512.3 760.73 L512.7 759.78 L513.1 758.82 L513.5 757.86 L513.9 756.9 L514.3 755.94 L514.7 754.99 L515.1 754.06 L515.5 753.15 L515.9 752.25 L516.3 751.38 L516.7 750.53 L517.1 749.72 L517.5 748.94 L517.9 748.2 L518.3 747.5 L518.7 746.84 L519.1 746.23 L519.5 745.66 L519.9 745.15 L520.3 744.69 L520.7 744.28 L521.1 743.94 L521.5 743.64 L521.9 743.41 L522.3 743.24 L522.7 743.13 L523.1 743.07 L523.5 743.07 L523.9 743.12 L524.3 743.22 L524.7 743.38 L525.1 743.58 L525.5 743.84 L525.9 744.14 L526.3 744.49 L526.7 744.89 L527.1 745.33 L527.5 745.81 L527.9 746.33 L528.3 746.89 L528.7 747.49 L529.1 748.12 L529.5 748.78 L529.9 749.48 L530.3 750.2 L530.7 750.95 L531.1 751.72 L531.5 752.52 L531.9 753.33 L532.3 754.15 L532.7 754.99 L533.1 755.84 L533.5 756.69 L533.9 757.55 L534.3 758.41 L534.7 759.27 L535.1 760.12 L535.5 760.97 L535.9 761.8 L536.3 762.62 L536.7 763.42 L537.1 764.21 L537.5 764.97 L537.9 765.71 L538.3 766.42 L538.7 767.11 L539.1 767.76 L539.5 768.37 L539.9 768.95 L540.3 769.5 L540.7 770 L541.1 770.46 L541.5 770.87 L541.9 771.24 L542.3 771.57 L542.7 771.85 L543.1 772.07 L543.5 772.25 L543.9 772.38 L544.3 772.45 L544.7 772.47 L545.1 772.43 L545.5 772.33 L545.9 772.17 L546.3 771.95 L546.7 771.67 L547.1 771.34 L547.5 770.95 L547.9 770.51 L548.3 770.02 L548.7 769.47 L549.1 768.88 L549.5 768.24 L549.9 767.56 L550.3 766.84 L550.7 766.08 L551.1 765.29 L551.5 764.46 L551.9 763.61 L552.3 762.73 L552.7 761.83 L553.1 760.92 L553.5 759.99 L553.9 759.06 L554.3 758.12 L554.7 757.17 L555.1 756.23 L555.5 755.3 L555.9 754.38 L556.3 753.47 L556.7 752.58 L557.1 751.71 L557.5 750.87 L557.9 750.06 L558.3 749.28 L558.7 748.54 L559.1 747.83 L559.5 747.17 L559.9 746.55 L560.3 745.99 L560.7 745.47 L561.1 745.01 L561.5 744.6 L561.9 744.25 L562.3 743.95 L562.7 743.72 L563.1 743.55 L563.5 743.43 L563.9 743.37 L564.3 743.38 L564.7 743.43 L565.1 743.55 L565.5 743.71 L565.9 743.93 L566.3 744.2 L566.7 748.21 L567.1 777.37 L567.5 810.81 L567.9 844.51 L568.3 878.23 L568.7 911.84 L569.1 942.25 L569.5 967.54 L569.9 988.38 L570.3 1005.57 L570.7 1019.77 L571.1 1031.5 L571.5 1041.16 L571.9 1049.09 L572.3 1055.57 L572.7 1060.83 L573.1 1065.06 L573.5 1068.44 L573.9 1071.1 L574.3 1073.19 L574.7 1074.81 L575.1 1076.07 L575.5 1077.03 L575.9 1077.76 L576.3 1078.31 L576.7 1078.73 L577.1 1079.05 L577.5 1079.29 L577.9 1079.47 L578.3 1079.6 L578.7 1079.7 L579.1 1079.78 L579.5 1079.83 L579.9 1079.87 L580.3 1079.91 L580.7 1079.93 L581.1 1079.95 L581.5 1079.96 L581.9 1079.97 L582.3 1079.98 L582.7 1079.98 L583.1 1079.99 L583.5 1079.99 L583.9 1079.99 L584.3 1079.99 L584.7 1080 L585.1 1080 L585.5 1080 L585.9 1080 L586.3 1080 L586.7 1080 L587.1 1080 L587.5 1080 L587.9 1080 L588.3 1080 L588.7 1080 L589.1 1080 L589.5 1080 L589.9 1080 L590.3 1080 L590.7 1080 L591.1 1080 L591.5 1080 L591.9 1080 L592.3 1080 L592.7 1080 L593.1 1080 L593.5 1080 L593.9 1080 L594.3 1080 L594.7 1080 L595.1 1080 L595.5 1080 L595.9 1080 L596.3 1080 L596.7 1080 L597.1 1080 L597.5 1080 L597.9 1080 L598.3 1080 L598.7 1080 L599.1 1080 L599.5 1080 L599.9 1080 L600.3 1080 L600.7 1080 L601.1 1080 L601.5 1080 L601.9 1080 L602.3 1080 L602.7 1080 L603.1 1080 L603.5 1080 L603.9 1080 L604.3 1080 L604.7 1080 L605.1 1080 L605.5 1080 L605.9 1080 L606.3 1080 L606.7 1080 L607.1 1080 L607.5 1080 L607.9 1080 L608.3 1080 L608.7 1080 L609.1 1080 L609.5 1080 L609.9 1080 L610.3 1080 L610.7 1080 L611.1 1080 L611.5 1080 L611.9 1080 L612.3 1080 L612.7 1080 L613.1 1080 L613.5 1080 L613.9 1080 L614.3 1080 L614.7 1080 L615.1 1080 L615.5 1080 L615.9 1080 L616.3 1080 L616.7 1080 L617.1 1080 L617.5 1080 L617.9 1080 L618.3 1080 L618.7 1080 L619.1 1080 L619.5 1080 L619.9 1080 L620.3 1080 L620.7 1080 L621.1 1080 L621.5 1080 L621.9 1080 L622.3 1080 L622.7 1080 L623.1 1080 L623.5 1080 L623.9 1080 L624.3 1080 L624.7 1080 L625.1 1080 L625.5 1080 L625.9 1080 L626.3 1080 L626.7 1080 L627.1 1080 L627.5 1080 L627.9 1080 L628.3 1080 L628.7 1080 L629.1 1080 L629.5 1080 L629.9 1080 L630.3 1080 L630.7 1080 L631.1 1080 L631.5 1080 L631.9 1080 L632.3 1080 L632.7 1080 L633.1 1080 L633.5 1080 L633.9 1080 L634.3 1080 L634.7 1080 L635.1 1080 L635.5 1080 L635.9 1080 L636.3 1080 L636.7 1080 L637.1 1080 L637.5 1080 L637.9 1080 L638.3 1080 L638.7 1080 L639.1 1080 L639.5 1080 L639.9 1080 L640.3 1080 L640.7 1080 L641.1 1080 L641.5 1080 L641.9 1080 L642.3 1080 L642.7 1080 L643.1 1080 L643.5 1080 L643.9 1080 L644.3 1080 L644.7 1080 L645.1 1080 L645.5 1080 L645.9 1080 L646.3 1080 L646.7 1080 L647.1 1080 L647.5 1080 L647.9 1080 L648.3 1080 L648.7 1080 L649.1 1080 L649.5 1080 L649.9 1080 L650.3 1080 L650.7 1080 L651.1 1080 L651.5 1080 L651.9 1080 L652.3 1080 L652.7 1080 L653.1 1080 L653.5 1080 L653.9 1080 L654.3 1080 L654.7 1080 L655.1 1080 L655.5 1080 L655.9 1080 L656.3 1080 L656.7 1080 L657.1 1080 L657.5 1080 L657.9 1080 L658.3 1080 L658.7 1080 L659.1 1080 L659.5 1080 L659.9 1080 L660.3 1080 L660.7 1080 L661.1 1080 L661.5 1080 L661.9 1080 L662.3 1080 L662.7 1080 L663.1 1080 L663.5 1080 L663.9 1080 L664.3 1080 L664.7 1080 L665.1 1080 L665.5 1080 L665.9 1080 L666.3 1080 L666.7 1080 L667.1 1080 L667.5 1080 L667.9 1080 L668.3 1080 L668.7 1080 L669.1 1080 L669.5 1080 L669.9 1080 L670.3 1080 L670.7 1080 L671.1 1080 L671.5 1080 L671.9 1080 L672.3 1080 L672.7 1080 L673.1 1080 L673.5 1080 L673.9 1080 L674.3 1080 L674.7 1080 L675.1 1080 L675.5 1080 L675.9 1080 L676.3 1080 L676.7 1080 L677.1 1080 L677.5 1080 L677.9 1080 L678.3 1080 L678.7 1080 L679.1 1080 L679.5 1080 L679.9 1080 L680.3 1080 L680.7 1080 L681.1 1080 L681.5 1080 L681.9 1080 L682.3 1080 L682.7 1080 L683.1 1080 L683.5 1080 L683.9 1080 L684.3 1080 L684.7 1080 L685.1 1080 L685.5 1080 L685.9 1080 L686.3 1080 L686.7 1080 L687.1 1080 L687.5 1080 L687.9 1080 L688.3 1080 L688.7 1080 L689.1 1080 L689.5 1080 L689.9 1080 L690.3 1080 L690.7 1080 L691.1 1080 L691.5 1080 L691.9 1080 L692.3 1080 L692.7 1080 L693.1 1080 L693.5 1080 L693.9 1080 L694.3 1080 L694.7 1080 L695.1 1080 L695.5 1080 L695.9 1080 L696.3 1080 L696.7 1080 L697.1 1080 L697.5 1080 L697.9 1080 L698.3 1080 L698.7 1080 L699.1 1080 L699.5 1080 L699.9 1080 L700.3 1080 L700.7 1080 L701.1 1080 L701.5 1080 L701.9 1080 L702.3 1080 L702.7 1080 L703.1 1080 L703.5 1080 L703.9 1080 L704.3 1080 L704.7 1080 L705.1 1080 L705.5 1080 L705.9 1080 L706.3 1080 L706.7 1080 L707.1 1080 L707.5 1080 L707.9 1080 L708.3 1080 L708.7 1080 L709.1 1080 L709.5 1080 L709.9 1080 L710.3 1080 L710.7 1080 L711.1 1080 L711.5 1080 L711.9 1080 L712.3 1080 L712.7 1080 L713.1 1080 L713.5 1080 L713.9 1080 L714.3 1080 L714.7 1080 L715.1 1080 L715.5 1080 L715.9 1080 L716.3 1080 L716.7 1080 L717.1 1080 L717.5 1080 L717.9 1080 L718.3 1080 L718.7 1080 L719.1 1080 L719.5 1080 L719.9 1080 L720.3 1080 L720.7 1080 L721.1 1080 L721.5 1080 L721.9 1080 L722.3 1080 L722.7 1080 L723.1 1080 L723.5 1080 L723.9 1080 L724.3 1080 L724.7 1080 L725.1 1080 L725.5 1080 L725.9 1080 L726.3 1080 L726.7 1080 L727.1 1080 L727.5 1080 L727.9 1080 L728.3 1080 L728.7 1080 L729.1 1080 L729.5 1080 L729.9 1080 L730.3 1080 L730.7 1080 L731.1 1080 L731.5 1080 L731.9 1080 L732.3 1080 L732.7 1080 L733.1 1080 L733.5 1080 L733.9 1080 L734.3 1080 L734.7 1080 L735.1 1080 L735.5 1080 L735.9 1080 L736.3 1080 L736.7 1080 L737.1 1080 L737.5 1080 L737.9 1080 L738.3 1080 L738.7 1080 L739.1 1080 L739.5 1080 L739.9 1080 L740.3 1080 L740.7 1080 L741.1 1080 L741.5 1080 L741.9 1080 L742.3 1080 L742.7 1080 L743.1 1080 L743.5 1080 L743.9 1080 L744.3 1080 L744.7 1080 L745.1 1080 L745.5 1080 L745.9 1080 L746.3 1080 L746.7 1080 L747.1 1080 L747.5 1080 L747.9 1080 L748.3 1080 L748.7 1080 L749.1 1080 L749.5 1080 L749.9 1080 L750.3 1080 L750.7 1080 L751.1 1080 L751.5 1080 L751.9 1080 L752.3 1080 L752.7 1080 L753.1 1080 L753.5 1080 L753.9 1080 L754.3 1080 L754.7 1080 L755.1 1080 L755.5 1080 L755.9 1080 L756.3 1080 L756.7 1080 L757.1 1080 L757.5 1080 L757.9 1080 L758.3 1080 L758.7 1080 L759.1 1080 L759.5 1080 L759.9 1080 L760.3 1080 L760.7 1080 L761.1 1080 L761.5 1080 L761.9 1080 L762.3 1080 L762.7 1080 L763.1 1080 L763.5 1080 L763.9 1080 L764.3 1080 L764.7 1080 L765.1 1080 L765.5 1080 L765.9 1080 L766.3 1080 L766.7 1080 L767.1 1080 L767.5 1080 L767.9 1080 L768.3 1080 L768.7 1080 L769.1 1080 L769.5 1080 L769.9 1080 L770.3 1080 L770.7 1080 L771.1 1080 L771.5 1080 L771.9 1080 L772.3 1080 L772.7 1080 L773.1 1080 L773.5 1080 L773.9 1080 L774.3 1080 L774.7 1080 L775.1 1080 L775.5 1080 L775.9 1080 L776.3 1080 L776.7 1080 L777.1 1080 L777.5 1080 L777.9 1080 L778.3 1080 L778.7 1080 L779.1 1080 L779.5 1080 L779.9 1080 L780.3 1080 L780.7 1080 L781.1 1080 L781.5 1080 L781.9 1080 L782.3 1080 L782.7 1080 L783.1 1080 L783.5 1080 L783.9 1080 L784.3 1080 L784.7 1080 L785.1 1080 L785.5 1080 L785.9 1080 L786.3 1080 L786.7 1080 L787.1 1080 L787.5 1080 L787.9 1080 L788.3 1080 L788.7 1080 L789.1 1080 L789.5 1080 L789.9 1080 L790.3 1080 L790.7 1080 L791.1 1080 L791.5 1080 L791.9 1080 L792.3 1080 L792.7 1080 L793.1 1080 L793.5 1080 L793.9 1080 L794.3 1080 L794.7 1080 L795.1 1080 L795.5 1080 L795.9 1080 L796.3 1080 L796.7 1080 L797.1 1080 L797.5 1080 L797.9 1080 L798.3 1080 L798.7 1080 L799.1 1080 L799.5 1080 L799.9 1080 L800.3 1080 L800.7 1080 L801.1 1080 L801.5 1080 L801.9 1080 L802.3 1080 L802.7 1080 L803.1 1080 L803.5 1080 L803.9 1080 L804.3 1080 L804.7 1080 L805.1 1080 L805.5 1080 L805.9 1080 L806.3 1080 L806.7 1080 L807.1 1080 L807.5 1080 L807.9 1080 L808.3 1080 L808.7 1080 L809.1 1080 L809.5 1080 L809.9 1080 L810.3 1080 L810.7 1080 L811.1 1080 L811.5 1080 L811.9 1080 L812.3 1080 L812.7 1080 L813.1 1080 L813.5 1080 L813.9 1080 L814.3 1080 L814.7 1080 L815.1 1080 L815.5 1080 L815.9 1080 L816.3 1080 L816.7 1080 L817.1 1080 L817.5 1080 L817.9 1080 L818.3 1080 L818.7 1080 L819.1 1080 L819.5 1080 L819.9 1080 L820.3 1080 L820.7 1080 L821.1 1080 L821.5 1080 L821.9 1080 L822.3 1080 L822.7 1080 L823.1 1080 L823.5 1080 L823.9 1080 L824.3 1080 L824.7 1080 L825.1 1080 L825.5 1080 L825.9 1080 L826.3 1080 L826.7 1080 L827.1 1080 L827.5 1080 L827.9 1080 L828.3 1080 L828.7 1080 L829.1 1080 L829.5 1080 L829.9 1080 L830.3 1080 L830.7 1080 L831.1 1080 L831.5 1080 L831.9 1080 L832.3 1080 L832.7 1080 L833.1 1080 L833.5 1080 L833.9 1080 L834.3 1080 L834.7 1080 L835.1 1080 L835.5 1080 L835.9 1080 L836.3 1080 L836.7 1080 L837.1 1080 L837.5 1080 L837.9 1080 L838.3 1080 L838.7 1080 L839.1 1080 L839.5 1080 L839.9 1080 L840.3 1080 L840.7 1080 L841.1 1080 L841.5 1080 L841.9 1080 L842.3 1080 L842.7 1080 L843.1 1080 L843.5 1080 L843.9 1080 L844.3 1080 L844.7 1080 L845.1 1080 L845.5 1080 L845.9 1080 L846.3 1063.1 L846.7 1030.52 L847.1 996.88 L847.5 963.16 L847.9 931.13 L848.3 904.2 L848.7 882.07 L849.1 863.9 L849.5 848.96 L849.9 836.66 L850.3 826.56 L850.7 818.27 L851.1 811.5 L851.5 805.98 L851.9 801.5 L852.3 797.87 L852.7 794.92 L853.1 792.52 L853.5 790.53 L853.9 788.86 L854.3 787.43 L854.7 786.15 L855.1 784.99 L855.5 783.9 L855.9 782.85 L856.3 781.81 L856.7 780.77 L857.1 779.72 L857.5 778.64 L857.9 777.53 L858.3 776.39 L858.7 775.22 L859.1 774.01 L859.5 772.78 L859.9 771.51 L860.3 770.22 L860.7 768.91 L861.1 767.58 L861.5 766.23 L861.9 764.87 L862.3 763.51 L862.7 762.15 L863.1 760.78 L863.5 759.43 L863.9 758.09 L864.3 756.77 L864.7 755.48 L865.1 754.21 L865.5 752.98 L865.9 751.78 L866.3 750.62 L866.7 749.52 L867.1 748.46 L867.5 747.46 L867.9 746.52 L868.3 745.64 L868.7 744.83 L869.1 744.08 L869.5 743.41 L869.9 742.82 L870.3 742.3 L870.7 741.87 L871.1 741.51 L871.5 741.24 L871.9 741.05 L872.3 740.94 L872.7 740.9 L873.1 740.95 L873.5 741.06 L873.9 741.25 L874.3 741.51 L874.7 741.84 L875.1 742.24 L875.5 742.7 L875.9 743.22 L876.3 743.81 L876.7 744.45 L877.1 745.15 L877.5 745.91 L877.9 746.72 L878.3 747.58 L878.7 748.48 L879.1 749.43 L879.5 750.42 L879.9 751.45 L880.3 752.51 L880.7 753.61 L881.1 754.72 L881.5 755.87 L881.9 757.03 L882.3 758.21 L882.7 759.4 L883.1 760.59 L883.5 761.79 L883.9 763 L884.3 764.19 L884.7 765.38 L885.1 766.56 L885.5 767.72 L885.9 768.86 L886.3 769.97 L886.7 771.06 L887.1 772.12 L887.5 773.14 L887.9 774.13 L888.3 775.07 L888.7 775.97 L889.1 776.81 L889.5 777.61 L889.9 778.35 L890.3 779.04 L890.7 779.67 L891.1 780.23 L891.5 780.74 L891.9 781.17 L892.3 781.55 L892.7 781.85 L893.1 782.08 L893.5 782.24 L893.9 782.33 L894.3 782.34 L894.7 782.27 L895.1 782.13 L895.5 781.91 L895.9 781.62 L896.3 781.25 L896.7 780.8 L897.1 780.29 L897.5 779.7 L897.9 779.05 L898.3 778.33 L898.7 777.55 L899.1 776.71 L899.5 775.82 L899.9 774.87 L900.3 773.87 L900.7 772.82 L901.1 771.74 L901.5 770.61 L901.9 769.45 L902.3 768.26 L902.7 767.05 L903.1 765.82 L903.5 764.57 L903.9 763.31 L904.3 762.04 L904.7 760.77 L905.1 759.51 L905.5 758.25 L905.9 757.01 L906.3 755.79 L906.7 754.58 L907.1 753.41 L907.5 752.27 L907.9 751.16 L908.3 750.09 L908.7 749.07 L909.1 748.1 L909.5 747.18 L909.9 746.32 L910.3 745.52 L910.7 744.78 L911.1 744.11 L911.5 743.51 L911.9 742.98 L912.3 742.52 L912.7 742.14 L913.1 741.84 L913.5 741.61 L913.9 741.46 L914.3 741.39 L914.7 741.39 L915.1 741.47 L915.5 741.61 L915.9 741.83 L916.3 742.12 L916.7 742.47 L917.1 742.89 L917.5 743.37 L917.9 743.91 L918.3 744.52 L918.7 745.18 L919.1 745.9 L919.5 746.67 L919.9 747.49 L920.3 748.35 L920.7 749.26 L921.1 750.22 L921.5 751.21 L921.9 752.23 L922.3 753.29 L922.7 754.37 L923.1 755.47 L923.5 756.6 L923.9 757.74 L924.3 758.89 L924.7 760.06 L925.1 761.22 L925.5 762.38 L925.9 763.54 L926.3 764.69 L926.7 765.83 L927.1 766.95 L927.5 768.05 L927.9 769.13 L928.3 770.18 L928.7 771.19 L929.1 772.17 L929.5 773.11 L929.9 774.01 L930.3 774.86 L930.7 775.66 L931.1 776.41 L931.5 777.1 L931.9 777.74 L932.3 778.32 L932.7 778.83 L933.1 779.28 L933.5 779.67 L933.9 779.99 L934.3 780.23 L934.7 780.41 L935.1 780.52 L935.5 780.56 L935.9 780.52 L936.3 780.41 L936.7 780.23 L937.1 779.98 L937.5 779.66 L937.9 779.27 L938.3 778.81 L938.7 778.29 L939.1 777.7 L939.5 777.05 L939.9 776.35 L940.3 775.59 L940.7 774.77 L941.1 773.9 L941.5 772.99 L941.9 772.03 L942.3 771.04 L942.7 770 L943.1 768.93 L943.5 767.84 L943.9 766.72 L944.3 765.57 L944.7 764.41 L945.1 763.24 L945.5 762.06 L945.9 760.87 L946.3 759.69 L946.7 758.51 L947.1 757.34 L947.5 756.18 L947.9 755.05 L948.3 753.93 L948.7 752.84 L949.1 751.78 L949.5 750.76 L949.9 749.77 L950.3 748.83 L950.7 747.93 L951.1 747.08 L951.5 746.29 L951.9 745.55 L952.3 744.87 L952.7 744.25 L953.1 743.7 L953.5 743.21 L953.9 742.79 L954.3 742.44 L954.7 742.16 L955.1 741.95 L955.5 741.82 L955.9 741.75 L956.3 741.76 L956.7 741.84 L957.1 741.98 L957.5 742.19 L957.9 742.47 L958.3 742.81 L958.7 743.21 L959.1 743.68 L959.5 744.2 L959.9 744.79 L960.3 745.42 L960.7 746.11 L961.1 746.86 L961.5 747.64 L961.9 748.48 L962.3 749.35 L962.7 750.27 L963.1 751.22 L963.5 752.2 L963.9 753.21 L964.3 754.25 L964.7 755.31 L965.1 756.38 L965.5 757.47 L965.9 758.57 L966.3 759.67 L966.7 760.78 L967.1 761.89 L967.5 762.99 L967.9 764.08 L968.3 765.15 L968.7 766.21 L969.1 767.24 L969.5 768.25 L969.9 769.23 L970.3 770.18 L970.7 771.09 L971.1 771.97 L971.5 772.79 L971.9 773.58 L972.3 774.31 L972.7 774.99 L973.1 775.62 L973.5 776.19 L973.9 776.7 L974.3 777.15 L974.7 777.53 L975.1 777.85 L975.5 778.11 L975.9 778.3 L976.3 778.42 L976.7 778.47 L977.1 778.45 L977.5 778.36 L977.9 778.21 L978.3 777.98 L978.7 777.68 L979.1 777.32 L979.5 776.9 L979.9 776.41 L980.3 775.86 L980.7 775.25 L981.1 774.58 L981.5 773.86 L981.9 773.08 L982.3 772.26 L982.7 771.39 L983.1 770.48 L983.5 769.53 L983.9 768.54 L984.3 767.52 L984.7 766.48 L985.1 765.41 L985.5 764.32 L985.9 763.21 L986.3 762.09 L986.7 760.97 L987.1 759.84 L987.5 758.71 L987.9 757.59 L988.3 756.47 L988.7 755.37 L989.1 754.29 L989.5 753.23 L989.9 752.2 L990.3 751.2 L990.7 750.24 L991.1 749.31 L991.5 748.42 L991.9 747.58 L992.3 746.79 L992.7 746.05 L993.1 745.37 L993.5 744.74 L993.9 744.17 L994.3 743.67 L994.7 743.23 L995.1 742.86 L995.5 742.56 L995.9 742.32 L996.3 742.16 L996.7 742.06 L997.1 742.04 L997.5 742.08 L997.9 742.2 L998.3 742.38 L998.7 742.63 L999.1 742.94 L999.5 743.32 L999.9 743.76 L1000.3 744.26 L1000.7 744.82 L1001.1 745.43 L1001.5 746.1 L1001.9 746.82 L1002.3 747.59 L1002.7 748.41 L1003.1 749.26 L1003.5 750.16 L1003.9 751.09 L1004.3 752.06 L1004.7 753.05 L1005.1 754.07 L1005.5 755.11 L1005.9 756.17 L1006.3 757.24 L1006.7 758.32 L1007.1 759.41 L1007.5 760.5 L1007.9 761.58 L1008.3 762.66 L1008.7 763.72 L1009.1 764.77 L1009.5 765.8 L1009.9 766.81 L1010.3 767.79 L1010.7 768.73 L1011.1 769.64 L1011.5 770.52 L1011.9 771.35 L1012.3 772.13 L1012.7 772.87 L1013.1 773.56 L1013.5 774.19 L1013.9 774.76 L1014.3 775.28 L1014.7 775.73 L1015.1 776.12 L1015.5 776.44 L1015.9 776.7 L1016.3 776.89 L1016.7 777.02 L1017.1 777.08 L1017.5 777.07 L1017.9 777 L1018.3 776.86 L1018.7 776.66 L1019.1 776.4 L1019.5 776.08 L1019.9 775.7 L1020.3 775.27 L1020.7 774.77 L1021.1 774.23 L1021.5 773.63 L1021.9 772.98 L1022.3 772.28 L1022.7 771.54 L1023.1 770.76 L1023.5 769.93 L1023.9 769.08 L1024.3 768.18 L1024.7 767.26 L1025.1 766.31 L1025.5 765.34 L1025.9 764.34 L1026.3 763.33 L1026.7 762.31 L1027.1 761.28 L1027.5 760.24 L1027.9 759.2 L1028.3 758.16 L1028.7 757.13 L1029.1 756.11 L1029.5 755.1 L1029.9 754.11 L1030.3 753.13 L1030.7 752.19 L1031.1 751.27 L1031.5 750.38 L1031.9 749.52 L1032.3 748.7 L1032.7 747.93 L1033.1 747.19 L1033.5 746.5 L1033.9 745.87 L1034.3 745.28 L1034.7 744.74 L1035.1 744.27 L1035.5 743.84 L1035.9 743.48 L1036.3 743.18 L1036.7 742.94 L1037.1 742.76 L1037.5 742.65 L1037.9 742.59 L1038.3 742.61 L1038.7 742.68 L1039.1 742.81 L1039.5 743.01 L1039.9 743.27 L1040.3 743.58 L1040.7 743.95 L1041.1 744.38 L1041.5 744.86 L1041.9 745.4 L1042.3 745.98 L1042.7 746.61 L1043.1 747.29 L1043.5 748.01 L1043.9 748.77 L1044.3 749.57 L1044.7 750.41 L1045.1 751.27 L1045.5 752.17 L1045.9 753.09 L1046.3 754.03 L1046.7 755 L1047.1 755.97 L1047.5 756.96 L1047.9 757.96 L1048.3 758.96 L1048.7 759.96 L1049.1 760.95 L1049.5 761.94 L1049.9 762.92 L1050.3 763.89 L1050.7 764.83 L1051.1 765.76 L1051.5 766.66 L1051.9 767.53 L1052.3 768.37 L1052.7 769.17 L1053.1 769.94 L1053.5 770.66 L1053.9 771.34 L1054.3 771.98 L1054.7 772.56 L1055.1 773.1 L1055.5 773.58 L1055.9 774 L1056.3 774.37 L1056.7 774.68 L1057.1 774.93 L1057.5 775.11 L1057.9 775.24 L1058.3 775.31 L1058.7 775.31 L1059.1 775.24 L1059.5 775.12 L1059.9 774.93 L1060.3 774.69 L1060.7 774.38 L1061.1 774.02 L1061.5 773.59 L1061.9 773.12 L1062.3 772.58 L1062.7 772 L1063.1 771.37 L1063.5 770.69 L1063.9 769.97 L1064.3 769.21 L1064.7 768.4 L1065.1 767.56 L1065.5 766.69 L1065.9 765.79 L1066.3 764.87 L1066.7 763.92 L1067.1 762.95 L1067.5 761.97 L1067.9 760.97 L1068.3 759.97 L1068.7 758.97 L1069.1 757.96 L1069.5 756.96 L1069.9 755.97 L1070.3 754.99 L1070.7 754.02 L1071.1 753.07 L1071.5 752.15 L1071.9 751.25 L1072.3 750.38 L1072.7 749.55 L1073.1 748.75 L1073.5 747.99 L1073.9 747.28 L1074.3 746.61 L1074.7 745.99 L1075.1 745.42 L1075.5 744.9 L1075.9 744.44 L1076.3 744.04 L1076.7 743.69 L1077.1 743.41 L1077.5 743.19 L1077.9 743.02 L1078.3 742.93 L1078.7 742.89 L1079.1 742.92 L1079.5 743.01 L1079.9 743.16 L1080.3 743.38 L1080.7 743.65 L1081.1 743.99 L1081.5 744.38 L1081.9 744.82 L1082.3 745.32 L1082.7 745.87 L1083.1 746.47 L1083.5 747.12 L1083.9 747.82 L1084.3 748.55 L1084.7 749.33 L1085.1 750.14 L1085.5 750.98 L1085.9 751.86 L1086.3 752.76 L1086.7 753.68 L1087.1 754.62 L1087.5 755.58 L1087.9 756.55 L1088.3 757.53 L1088.7 758.51 L1089.1 759.49 L1089.5 760.47 L1089.9 761.45 L1090.3 762.41 L1090.7 763.35 L1091.1 764.28 L1091.5 765.18 L1091.9 766.06 L1092.3 766.91 L1092.7 767.72 L1093.1 768.5 L1093.5 769.24 L1093.9 769.93 L1094.3 770.59 L1094.7 771.19 L1095.1 771.74 L1095.5 772.24 L1095.9 772.68 L1096.3 773.07 L1096.7 773.39 L1097.1 773.66 L1097.5 773.87 L1097.9 774.01 L1098.3 774.1 L1098.7 774.12 L1099.1 774.08 L1099.5 773.99 L1099.9 773.83 L1100.3 773.62 L1100.7 773.35 L1101.1 773.03 L1101.5 772.66 L1101.9 772.23 L1102.3 771.75 L1102.7 771.22 L1103.1 770.65 L1103.5 770.03 L1103.9 769.37 L1104.3 768.68 L1104.7 767.94 L1105.1 767.17 L1105.5 766.37 L1105.9 765.54 L1106.3 764.68 L1106.7 763.8 L1107.1 762.9 L1107.5 761.99 L1107.9 761.06 L1108.3 760.12 L1108.7 759.18 L1109.1 758.23 L1109.5 757.29 L1109.9 756.35 L1110.3 755.42 L1110.7 754.5 L1111.1 753.59 L1111.5 752.7 L1111.9 751.84 L1112.3 751 L1112.7 750.18 L1113.1 749.4 L1113.5 748.65 L1113.9 747.94 L1114.3 747.27 L1114.7 746.64 L1115.1 746.06 L1115.5 745.52 L1115.9 745.03 L1116.3 744.59 L1116.7 744.2 L1117.1 743.87 L1117.5 743.6 L1117.9 743.38 L1118.3 743.21 L1118.7 743.11 L1119.1 743.06 L1119.5 743.08 L1119.9 743.15 L1120.3 743.27 L1120.7 743.46 L1121.1 743.7 L1121.5 744 L1121.9 744.35 L1122.3 744.75 L1122.7 745.2 L1123.1 745.7 L1123.5 746.25 L1123.9 746.85 L1124.3 747.48 L1124.7 748.16 L1125.1 748.87 L1125.5 749.62 L1125.9 750.4 L1126.3 751.21 L1126.7 752.05 L1127.1 752.91 L1127.5 753.79 L1127.9 754.68 L1128.3 755.59 L1128.7 756.51 L1129.1 757.44 L1129.5 758.36 L1129.9 759.29 L1130.3 760.21 L1130.7 761.12 L1131.1 762.03 L1131.5 762.91 L1131.9 763.78 L1132.3 764.63 L1132.7 765.45 L1133.1 766.24 L1133.5 767 L1133.9 767.72 L1134.3 768.41 L1134.7 769.06 L1135.1 769.66 L1135.5 770.22 L1135.9 770.74 L1136.3 771.2 L1136.7 771.61 L1137.1 771.97 L1137.5 772.27 L1137.9 772.52 L1138.3 772.71 L1138.7 772.85 L1139.1 772.92 L1139.5 772.94 L1139.9 772.9 L1140.3 772.8 L1140.7 772.64 L1141.1 772.43 L1141.5 772.16 L1141.9 771.83 L1142.3 771.46 L1142.7 771.03 L1143.1 770.55 L1143.5 770.03 L1143.9 769.46 L1144.3 768.84 L1144.7 768.19 L1145.1 767.49 L1145.5 766.76 L1145.9 765.99 L1146.3 765.2 L1146.7 764.37 L1147.1 763.52 L1147.5 762.65 L1147.9 761.76 L1148.3 760.86 L1148.7 759.95 L1149.1 759.03 L1149.5 758.1 L1149.9 757.17 L1150.3 756.25 L1150.7 755.33 L1151.1 754.42 L1151.5 753.53 L1151.9 752.65 L1152.3 751.79 L1152.7 750.96 L1153.1 750.15 L1153.5 749.38 L1153.9 748.63 L1154.3 747.93 L1154.7 747.26 L1155.1 746.63 L1155.5 746.05 L1155.9 745.51 L1156.3 745.03 L1156.7 744.59 L1157.1 744.2 L1157.5 743.87 L1157.9 743.6 L1158.3 743.38 L1158.7 743.21 L1159.1 743.11 L1159.5 743.06 L1159.9 743.06 L1160.3 743.12 L1160.7 743.24 L1161.1 743.4 L1161.5 743.62 L1161.9 743.89 L1162.3 744.21 L1162.7 744.58 L1163.1 745 L1163.5 745.46 L1163.9 745.96 L1164.3 746.51 L1164.7 747.1 L1165.1 747.72 L1165.5 748.38 L1165.9 749.07 L1166.3 749.8 L1166.7 750.55 L1167.1 751.33 L1167.5 752.13 L1167.9 752.95 L1168.3 753.78 L1168.7 754.64 L1169.1 755.5 L1169.5 756.37 L1169.9 757.24 L1170.3 758.12 L1170.7 758.99 L1171.1 759.86 L1171.5 760.72 L1171.9 761.57 L1172.3 762.4 L1172.7 763.22 L1173.1 764.02 L1173.5 764.79 L1173.9 765.54 L1174.3 766.26 L1174.7 766.94 L1175.1 767.6 L1175.5 768.21 L1175.9 768.79 L1176.3 769.33 L1176.7 769.82 L1177.1 770.27 L1177.5 780.26 L1177.9 811.71 L1178.3 845.29 L1178.7 879 L1179.1 912.59 L1179.5 942.89 L1179.9 968.06 L1180.3 988.81 L1180.7 1005.93 L1181.1 1020.07 L1181.5 1031.74 L1181.9 1041.36 L1182.3 1049.26 L1182.7 1055.71 L1183.1 1060.94 L1183.5 1065.15 L1183.9 1068.5 L1184.3 1071.16 L1184.7 1073.23 L1185.1 1074.85 L1185.5 1076.09 L1185.9 1077.04 L1186.3 1077.77 L1186.7 1078.32 L1187.1 1078.74 L1187.5 1079.05 L1187.9 1079.29 L1188.3 1079.47 L1188.7 1079.6 L1189.1 1079.7 L1189.5 1079.78 L1189.9 1079.83 L1190.3 1079.88 L1190.7 1079.91 L1191.1 1079.93 L1191.5 1079.95 L1191.9 1079.96 L1192.3 1079.97 L1192.7 1079.98 L1193.1 1079.98 L1193.5 1079.99 L1193.9 1079.99 L1194.3 1079.99 L1194.7 1079.99 L1195.1 1080 L1195.5 1080 L1195.9 1080 L1196.3 1080 L1196.7 1080 L1197.1 1080 L1197.5 1080 L1197.9 1080 L1198.3 1080 L1198.7 1080 L1199.1 1080 L1199.5 1080 L1199.9 1080 L1200.3 1080 L1200.7 1080 L1201.1 1080 L1201.5 1080 L1201.9 1080 L1202.3 1080 L1202.7 1080 L1203.1 1080 L1203.5 1080 L1203.9 1080 L1204.3 1080 L1204.7 1080 L1205.1 1080 L1205.5 1080 L1205.9 1080 L1206.3 1080 L1206.7 1080 L1207.1 1080 L1207.5 1080 L1207.9 1080 L1208.3 1080 L1208.7 1080 L1209.1 1080 L1209.5 1080 L1209.9 1080 L1210.3 1080 L1210.7 1080 L1211.1 1080 L1211.5 1080 L1211.9 1080 L1212.3 1080 L1212.7 1080 L1213.1 1080 L1213.5 1080 L1213.9 1080 L1214.3 1080 L1214.7 1080 L1215.1 1080 L1215.5 1080 L1215.9 1080 L1216.3 1080 L1216.7 1080 L1217.1 1080 L1217.5 1080 L1217.9 1080 L1218.3 1080 L1218.7 1080 L1219.1 1080 L1219.5 1080 L1219.9 1080 L1220.3 1080 L1220.7 1080 L1221.1 1080 L1221.5 1080 L1221.9 1080 L1222.3 1080 L1222.7 1080 L1223.1 1080 L1223.5 1080 L1223.9 1080 L1224.3 1080 L1224.7 1080 L1225.1 1080 L1225.5 1080 L1225.9 1080 L1226.3 1080 L1226.7 1080 L1227.1 1080 L1227.5 1080 L1227.9 1080 L1228.3 1080 L1228.7 1080 L1229.1 1080 L1229.5 1080 L1229.9 1080 L1230.3 1080 L1230.7 1080 L1231.1 1080 L1231.5 1080 L1231.9 1080 L1232.3 1080 L1232.7 1080 L1233.1 1080 L1233.5 1080 L1233.9 1080 L1234.3 1080 L1234.7 1080 L1235.1 1080 L1235.5 1080 L1235.9 1080 L1236.3 1080 L1236.7 1080 L1237.1 1080 L1237.5 1080 L1237.9 1080 L1238.3 1080 L1238.7 1080 L1239.1 1080 L1239.5 1080 L1239.9 1080 L1240.3 1080 L1240.7 1080 L1241.1 1080 L1241.5 1080 L1241.9 1080 L1242.3 1080 L1242.7 1080 L1243.1 1080 L1243.5 1080 L1243.9 1080 L1244.3 1080 L1244.7 1080 L1245.1 1080 L1245.5 1080 L1245.9 1080 L1246.3 1080 L1246.7 1080 L1247.1 1080 L1247.5 1080 L1247.9 1080 L1248.3 1080 L1248.7 1080 L1249.1 1080 L1249.5 1080 L1249.9 1080 L1250.3 1080 L1250.7 1080 L1251.1 1080 L1251.5 1080 L1251.9 1080 L1252.3 1080 L1252.7 1080 L1253.1 1080 L1253.5 1080 L1253.9 1080 L1254.3 1080 L1254.7 1080 L1255.1 1080 L1255.5 1080 L1255.9 1080 L1256.3 1080 L1256.7 1080 L1257.1 1080 L1257.5 1080 L1257.9 1080 L1258.3 1080 L1258.7 1080 L1259.1 1080 L1259.5 1080 L1259.9 1080 L1260.3 1080 L1260.7 1080 L1261.1 1080 L1261.5 1080 L1261.9 1080 L1262.3 1080 L1262.7 1080 L1263.1 1080 L1263.5 1080 L1263.9 1080 L1264.3 1080 L1264.7 1080 L1265.1 1080 L1265.5 1080 L1265.9 1080 L1266.3 1080 L1266.7 1080 L1267.1 1080 L1267.5 1080 L1267.9 1080 L1268.3 1080 L1268.7 1080 L1269.1 1080 L1269.5 1080 L1269.9 1080 L1270.3 1080 L1270.7 1080 L1271.1 1080 L1271.5 1080 L1271.9 1080 L1272.3 1080 L1272.7 1080 L1273.1 1080 L1273.5 1080 L1273.9 1080 L1274.3 1080 L1274.7 1080 L1275.1 1080 L1275.5 1080 L1275.9 1080 L1276.3 1080 L1276.7 1080 L1277.1 1080 L1277.5 1080 L1277.9 1080 L1278.3 1080 L1278.7 1080 L1279.1 1080 L1279.5 1080 L1279.9 1080 L1280.3 1080 L1280.7 1080 L1281.1 1080 L1281.5 1080 L1281.9 1080 L1282.3 1080 L1282.7 1080 L1283.1 1080 L1283.5 1080 L1283.9 1080 L1284.3 1080 L1284.7 1080 L1285.1 1080 L1285.5 1080 L1285.9 1080 L1286.3 1080 L1286.7 1080 L1287.1 1080 L1287.5 1080 L1287.9 1080 L1288.3 1080 L1288.7 1080 L1289.1 1080 L1289.5 1080 L1289.9 1080 L1290.3 1080 L1290.7 1080 L1291.1 1080 L1291.5 1080 L1291.9 1080 L1292.3 1080 L1292.7 1080 L1293.1 1080 L1293.5 1080 L1293.9 1080 L1294.3 1080 L1294.7 1080 L1295.1 1080 L1295.5 1080 L1295.9 1080 L1296.3 1080 L1296.7 1080 L1297.1 1080 L1297.5 1080 L1297.9 1080 L1298.3 1080 L1298.7 1080 L1299.1 1080 L1299.5 1080 L1299.9 1080 L1300.3 1080 L1300.7 1080 L1301.1 1080 L1301.5 1080 L1301.9 1080 L1302.3 1080 L1302.7 1080 L1303.1 1080 L1303.5 1080 L1303.9 1080 L1304.3 1080 L1304.7 1080 L1305.1 1080 L1305.5 1080 L1305.9 1080 L1306.3 1080 L1306.7 1080 L1307.1 1080 L1307.5 1080 L1307.9 1080 L1308.3 1080 L1308.7 1080 L1309.1 1080 L1309.5 1080 L1309.9 1080 L1310.3 1080 L1310.7 1080 L1311.1 1080 L1311.5 1080 L1311.9 1080 L1312.3 1080 L1312.7 1080 L1313.1 1080 L1313.5 1080 L1313.9 1080 L1314.3 1080 L1314.7 1080 L1315.1 1080 L1315.5 1080 L1315.9 1080 L1316.3 1080 L1316.7 1080 L1317.1 1080 L1317.5 1080 L1317.9 1080 L1318.3 1080 L1318.7 1080 L1319.1 1080 L1319.5 1080 L1319.9 1080 L1320.3 1080 L1320.7 1080 L1321.1 1080 L1321.5 1080 L1321.9 1080 L1322.3 1080 L1322.7 1080 L1323.1 1080 L1323.5 1080 L1323.9 1080 L1324.3 1080 L1324.7 1080 L1325.1 1080 L1325.5 1080 L1325.9 1080 L1326.3 1080 L1326.7 1080 L1327.1 1080 L1327.5 1080 L1327.9 1080 L1328.3 1080 L1328.7 1080 L1329.1 1080 L1329.5 1080 L1329.9 1080 L1330.3 1080 L1330.7 1080 L1331.1 1080 L1331.5 1080 L1331.9 1080 L1332.3 1080 L1332.7 1080 L1333.1 1080 L1333.5 1080 L1333.9 1080 L1334.3 1080 L1334.7 1080 L1335.1 1080 L1335.5 1080 L1335.9 1080 L1336.3 1080 L1336.7 1080 L1337.1 1080 L1337.5 1080 L1337.9 1080 L1338.3 1080 L1338.7 1080 L1339.1 1080 L1339.5 1080 L1339.9 1080 L1340.3 1080 L1340.7 1080 L1341.1 1080 L1341.5 1080 L1341.9 1080 L1342.3 1080 L1342.7 1080 L1343.1 1080 L1343.5 1080 L1343.9 1080 L1344.3 1080 L1344.7 1080 L1345.1 1080 L1345.5 1080 L1345.9 1080 L1346.3 1080 L1346.7 1080 L1347.1 1080 L1347.5 1080 L1347.9 1080 L1348.3 1080 L1348.7 1080 L1349.1 1080 L1349.5 1080 L1349.9 1080 L1350.3 1080 L1350.7 1080 L1351.1 1080 L1351.5 1080 L1351.9 1080 L1352.3 1080 L1352.7 1080 L1353.1 1080 L1353.5 1080 L1353.9 1080 L1354.3 1080 L1354.7 1080 L1355.1 1080 L1355.5 1080 L1355.9 1080 L1356.3 1080 L1356.7 1080 L1357.1 1080 L1357.5 1080 L1357.9 1080 L1358.3 1080 L1358.7 1080 L1359.1 1080 L1359.5 1080 L1359.9 1080 L1360.3 1080 L1360.7 1080 L1361.1 1080 L1361.5 1080 L1361.9 1080 L1362.3 1080 L1362.7 1080 L1363.1 1080 L1363.5 1080 L1363.9 1080 L1364.3 1080 L1364.7 1080 L1365.1 1080 L1365.5 1080 L1365.9 1080 L1366.3 1080 L1366.7 1080 L1367.1 1080 L1367.5 1080 L1367.9 1080 L1368.3 1080 L1368.7 1080 L1369.1 1080 L1369.5 1080 L1369.9 1080 L1370.3 1080 L1370.7 1080 L1371.1 1080 L1371.5 1080 L1371.9 1080 L1372.3 1080 L1372.7 1080 L1373.1 1080 L1373.5 1080 L1373.9 1080 L1374.3 1080 L1374.7 1080 L1375.1 1080 L1375.5 1080 L1375.9 1080 L1376.3 1080 L1376.7 1080 L1377.1 1080 L1377.5 1080 L1377.9 1080 L1378.3 1080 L1378.7 1080 L1379.1 1080 L1379.5 1080 L1379.9 1080 L1380.3 1080 L1380.7 1080 L1381.1 1080 L1381.5 1080 L1381.9 1080 L1382.3 1080 L1382.7 1080 L1383.1 1080 L1383.5 1080 L1383.9 1080 L1384.3 1080 L1384.7 1080 L1385.1 1080 L1385.5 1080 L1385.9 1080 L1386.3 1080 L1386.7 1080 L1387.1 1080 L1387.5 1080 L1387.9 1080 L1388.3 1080 L1388.7 1080 L1389.1 1080 L1389.5 1080 L1389.9 1080 L1390.3 1080 L1390.7 1080 L1391.1 1080 L1391.5 1080 L1391.9 1080 L1392.3 1080 L1392.7 1080 L1393.1 1080 L1393.5 1080 L1393.9 1080 L1394.3 1080 L1394.7 1080 L1395.1 1080 L1395.5 1080 L1395.9 1080 L1396.3 1080 L1396.7 1080 L1397.1 1080 L1397.5 1080 L1397.9 1080 L1398.3 1080 L1398.7 1080 L1399.1 1080 L1399.5 1080 L1399.9 1080 L1400.3 1080 L1400.7 1080 L1401.1 1080 L1401.5 1080 L1401.9 1080 L1402.3 1080 L1402.7 1080 L1403.1 1080 L1403.5 1080 L1403.9 1080 L1404.3 1080 L1404.7 1080 L1405.1 1080 L1405.5 1080 L1405.9 1080 L1406.3 1080 L1406.7 1080 L1407.1 1080 L1407.5 1080 L1407.9 1080 L1408.3 1080 L1408.7 1080 L1409.1 1080 L1409.5 1080 L1409.9 1080 L1410.3 1080 L1410.7 1080 L1411.1 1080 L1411.5 1080 L1411.9 1080 L1412.3 1080 L1412.7 1080 L1413.1 1080 L1413.5 1080 L1413.9 1080 L1414.3 1080 L1414.7 1080 L1415.1 1080 L1415.5 1080 L1415.9 1080 L1416.3 1080 L1416.7 1080 L1417.1 1080 L1417.5 1080 L1417.9 1080 L1418.3 1080 L1418.7 1080 L1419.1 1080 L1419.5 1080 L1419.9 1080 L1420.3 1080 L1420.7 1080 L1421.1 1080 L1421.5 1080 L1421.9 1080 L1422.3 1080 L1422.7 1080 L1423.1 1080 L1423.5 1080 L1423.9 1080 L1424.3 1080 L1424.7 1080 L1425.1 1080 L1425.5 1080 L1425.9 1080 L1426.3 1080 L1426.7 1080 L1427.1 1080 L1427.5 1080 L1427.9 1080 L1428.3 1080 L1428.7 1080 L1429.1 1080 L1429.5 1080 L1429.9 1080 L1430.3 1080 L1430.7 1080 L1431.1 1080 L1431.5 1080 L1431.9 1080 L1432.3 1080 L1432.7 1080 L1433.1 1080 L1433.5 1080 L1433.9 1080 L1434.3 1080 L1434.7 1080 L1435.1 1080 L1435.5 1080 L1435.9 1080 L1436.3 1080 L1436.7 1080 L1437.1 1080 L1437.5 1080 L1437.9 1080 L1438.3 1080 L1438.7 1080 L1439.1 1080 L1439.5 1080 L1439.9 1080 L1440.3 1080 L1440.7 1080 L1441.1 1080 L1441.5 1080 L1441.9 1080 L1442.3 1080 L1442.7 1080 L1443.1 1080 L1443.5 1080 L1443.9 1080 L1444.3 1080 L1444.7 1080 L1445.1 1080 L1445.5 1080 L1445.9 1080 L1446.3 1080 L1446.7 1080 L1447.1 1080 L1447.5 1080 L1447.9 1080 L1448.3 1080 L1448.7 1080 L1449.1 1080 L1449.5 1080 L1449.9 1080 L1450.3 1080 L1450.7 1080 L1451.1 1080 L1451.5 1080 L1451.9 1080 L1452.3 1080 L1452.7 1080 L1453.1 1080 L1453.5 1080 L1453.9 1080 L1454.3 1080 L1454.7 1080 L1455.1 1080 L1455.5 1080 L1455.9 1080 L1456.3 1080 L1456.7 1080 L1457.1 1080 L1457.5 1063.1 L1457.9 1030.52 L1458.3 996.88 L1458.7 963.16 L1459.1 929.45 L1459.5 897.92 L1459.9 871.33 L1460.3 849.2 L1460.7 830.74 L1461.1 815.32 L1461.5 802.39 L1461.9 791.54 L1462.3 782.45 L1462.7 774.83 L1463.1 768.46 L1463.5 763.15 L1463.9 758.74 L1464.3 755.09 L1464.7 752.09 L1465.1 749.63 L1465.5 747.62 L1465.9 746 L1466.3 744.7 L1466.7 743.67 L1467.1 742.87 L1467.5 742.28 L1467.9 741.85 L1468.3 741.58 L1468.7 741.44 L1469.1 741.43 L1469.5 741.53 L1469.9 741.73 L1470.3 742.02 L1470.7 742.4 L1471.1 742.86 L1471.5 743.4 L1471.9 744.02 L1472.3 744.7 L1472.7 745.46 L1473.1 746.27 L1473.5 747.15 L1473.9 748.08 L1474.3 749.06 L1474.7 750.09 L1475.1 751.17 L1475.5 752.29 L1475.9 753.44 L1476.3 754.63 L1476.7 755.84 L1477.1 757.08 L1477.5 758.34 L1477.9 759.61 L1478.3 760.89 L1478.7 762.17 L1479.1 763.46 L1479.5 764.74 L1479.9 766.01 L1480.3 767.27 L1480.7 768.51 L1481.1 769.72 L1481.5 770.91 L1481.9 772.07 L1482.3 773.18 L1482.7 774.26 L1483.1 775.3 L1483.5 776.28 L1483.9 777.21 L1484.3 778.09 L1484.7 778.9 L1485.1 779.65 L1485.5 780.34 L1485.9 780.96 L1486.3 781.5 L1486.7 781.98 L1487.1 782.38 L1487.5 782.7 L1487.9 782.94 L1488.3 783.11 L1488.7 783.19 L1489.1 783.2 L1489.5 783.13 L1489.9 782.98 L1490.3 782.76 L1490.7 782.46 L1491.1 782.09 L1491.5 781.65 L1491.9 781.13 L1492.3 780.55 L1492.7 779.91 L1493.1 779.2 L1493.5 778.43 L1493.9 777.6 L1494.3 776.72 L1494.7 775.79 L1495.1 774.8 L1495.5 773.78 L1495.9 772.71 L1496.3 771.6 L1496.7 770.46 L1497.1 769.29 L1497.5 768.1 L1497.9 766.89 L1498.3 765.65 L1498.7 764.41 L1499.1 763.16 L1499.5 761.91 L1499.9 760.66 L1500.3 759.41 L1500.7 758.17 L1501.1 756.95 L1501.5 755.75 L1501.9 754.58 L1502.3 753.43 L1502.7 752.32 L1503.1 751.24 L1503.5 750.2 L1503.9 749.21 L1504.3 748.27 L1504.7 747.38 L1505.1 746.54 L1505.5 745.76 L1505.9 745.05 L1506.3 744.4 L1506.7 743.82 L1507.1 743.31 L1507.5 742.86 L1507.9 742.5 L1508.3 742.2 L1508.7 741.99 L1509.1 741.85 L1509.5 741.78 L1509.9 741.79 L1510.3 741.88 L1510.7 742.03 L1511.1 742.27 L1511.5 742.57 L1511.9 742.94 L1512.3 743.38 L1512.7 743.89 L1513.1 744.46 L1513.5 745.09 L1513.9 745.79 L1514.3 746.54 L1514.7 747.34 L1515.1 748.2 L1515.5 749.1 L1515.9 750.06 L1516.3 751.05 L1516.7 752.08 L1517.1 753.14 L1517.5 754.24 L1517.9 755.36 L1518.3 756.51 L1518.7 757.67 L1519.1 758.85 L1519.5 760.03 L1519.9 761.23 L1520.3 762.42 L1520.7 763.61 L1521.1 764.8 L1521.5 765.97 L1521.9 767.12 L1522.3 768.26 L1522.7 769.37 L1523.1 770.45 L1523.5 771.49 L1523.9 772.51 L1524.3 773.47 L1524.7 774.4 L1525.1 775.28 L1525.5 776.1 L1525.9 776.87 L1526.3 777.58 L1526.7 778.23 L1527.1 778.82 L1527.5 779.35 L1527.9 779.8 L1528.3 780.19 L1528.7 780.51 L1529.1 780.75 L1529.5 780.92 L1529.9 781.02 L1530.3 781.05 L1530.7 781 L1531.1 780.89 L1531.5 780.7 L1531.9 780.45 L1532.3 780.13 L1532.7 779.74 L1533.1 779.29 L1533.5 778.78 L1533.9 778.21 L1534.3 777.58 L1534.7 776.89 L1535.1 776.15 L1535.5 775.36 L1535.9 774.52 L1536.3 773.64 L1536.7 772.71 L1537.1 771.74 L1537.5 770.74 L1537.9 769.7 L1538.3 768.64 L1538.7 767.55 L1539.1 766.44 L1539.5 765.31 L1539.9 764.17 L1540.3 763.02 L1540.7 761.86 L1541.1 760.7 L1541.5 759.54 L1541.9 758.39 L1542.3 757.26 L1542.7 756.13 L1543.1 755.03 L1543.5 753.94 L1543.9 752.89 L1544.3 751.86 L1544.7 750.87 L1545.1 749.91 L1545.5 749 L1545.9 748.13 L1546.3 747.3 L1546.7 746.53 L1547.1 745.81 L1547.5 745.15 L1547.9 744.55 L1548.3 744 L1548.7 743.52 L1549.1 743.11 L1549.5 742.76 L1549.9 742.48 L1550.3 742.26 L1550.7 742.12 L1551.1 742.04 L1551.5 742.04 L1551.9 742.11 L1552.3 742.24 L1552.7 742.44 L1553.1 742.71 L1553.5 743.05 L1553.9 743.45 L1554.3 743.91 L1554.7 744.44 L1555.1 745.02 L1555.5 745.66 L1555.9 746.35 L1556.3 747.1 L1556.7 747.89 L1557.1 748.74 L1557.5 749.62 L1557.9 750.55 L1558.3 751.51 L1558.7 752.51 L1559.1 753.54 L1559.5 754.59 L1559.9 755.67 L1560.3 756.76 L1560.7 757.87 L1561.1 758.99 L1561.5 760.12 L1561.9 761.25 L1562.3 762.38 L1562.7 763.5 L1563.1 764.62 L1563.5 765.72 L1563.9 766.8 L1564.3 767.86 L1564.7 768.89 L1565.1 769.89 L1565.5 770.86 L1565.9 771.8 L1566.3 772.69 L1566.7 773.54 L1567.1 774.34 L1567.5 775.09 L1567.9 775.79 L1568.3 776.43 L1568.7 777.02 L1569.1 777.54 L1569.5 778 L1569.9 778.4 L1570.3 778.73 L1570.7 778.99 L1571.1 779.18 L1571.5 779.31 L1571.9 779.37 L1572.3 779.35 L1572.7 779.27 L1573.1 779.11 L1573.5 778.89 L1573.9 778.6 L1574.3 778.25 L1574.7 777.83 L1575.1 777.35 L1575.5 776.81 L1575.9 776.21 L1576.3 775.56 L1576.7 774.85 L1577.1 774.09 L1577.5 773.27 L1577.9 772.42 L1578.3 771.52 L1578.7 770.58 L1579.1 769.61 L1579.5 768.6 L1579.9 767.56 L1580.3 766.5 L1580.7 765.42 L1581.1 764.32 L1581.5 763.2 L1581.9 762.08 L1582.3 760.95 L1582.7 759.82 L1583.1 758.7 L1583.5 757.58 L1583.9 756.47 L1584.3 755.38 L1584.7 754.31 L1585.1 753.26 L1585.5 752.24 L1585.9 751.25 L1586.3 750.29 L1586.7 749.38 L1587.1 748.5 L1587.5 747.68 L1587.9 746.9 L1588.3 746.17 L1588.7 745.5 L1589.1 744.88 L1589.5 744.33 L1589.9 743.83 L1590.3 743.4 L1590.7 743.04 L1591.1 742.74 L1591.5 742.51 L1591.9 742.35 L1592.3 742.25 L1592.7 742.23 L1593.1 742.27 L1593.5 742.37 L1593.9 742.55 L1594.3 742.78 L1594.7 743.08 L1595.1 743.44 L1595.5 743.86 L1595.9 744.34 L1596.3 744.87 L1596.7 745.46 L1597.1 746.1 L1597.5 746.79 L1597.9 747.52 L1598.3 748.31 L1598.7 749.13 L1599.1 749.99 L1599.5 750.89 L1599.9 751.82 L1600.3 752.78 L1600.7 753.77 L1601.1 754.78 L1601.5 755.8 L1601.9 756.85 L1602.3 757.9 L1602.7 758.96 L1603.1 760.03 L1603.5 761.09 L1603.9 762.16 L1604.3 763.21 L1604.7 764.25 L1605.1 765.28 L1605.5 766.29 L1605.9 767.27 L1606.3 768.23 L1606.7 769.16 L1607.1 770.06 L1607.5 770.91 L1607.9 771.73 L1608.3 772.51 L1608.7 773.24 L1609.1 773.92 L1609.5 774.55 L1609.9 775.12 L1610.3 775.64 L1610.7 776.1 L1611.1 776.51 L1611.5 776.85 L1611.9 777.13 L1612.3 777.34 L1612.7 777.49 L1613.1 777.57 L1613.5 777.59 L1613.9 777.54 L1614.3 777.42 L1614.7 777.23 L1615.1 776.98 L1615.5 776.67 L1615.9 776.29 L1616.3 775.85 L1616.7 775.35 L1617.1 774.79 L1617.5 774.18 L1617.9 773.51 L1618.3 772.79 L1618.7 772.02 L1619.1 771.21 L1619.5 770.36 L1619.9 769.46 L1620.3 768.53 L1620.7 767.57 L1621.1 766.58 L1621.5 765.56 L1621.9 764.52 L1622.3 763.47 L1622.7 762.4 L1623.1 761.32 L1623.5 760.24 L1623.9 759.15 L1624.3 758.07 L1624.7 757 L1625.1 755.94 L1625.5 754.89 L1625.9 753.87 L1626.3 752.86 L1626.7 751.89 L1627.1 750.94 L1627.5 750.03 L1627.9 749.16 L1628.3 748.33 L1628.7 747.55 L1629.1 746.82 L1629.5 746.13 L1629.9 745.5 L1630.3 744.93 L1630.7 744.42 L1631.1 743.97 L1631.5 743.58 L1631.9 743.25 L1632.3 743 L1632.7 742.8 L1633.1 742.68 L1633.5 742.62 L1633.9 742.63 L1634.3 742.7 L1634.7 742.83 L1635.1 743.03 L1635.5 743.29 L1635.9 743.61 L1636.3 743.99 L1636.7 744.42 L1637.1 744.91 L1637.5 745.45 L1637.9 746.05 L1638.3 746.69 L1638.7 747.38 L1639.1 748.11 L1639.5 748.89 L1639.9 749.7 L1640.3 750.55 L1640.7 751.44 L1641.1 752.35 L1641.5 753.28 L1641.9 754.24 L1642.3 755.22 L1642.7 756.22 L1643.1 757.22 L1643.5 758.24 L1643.9 759.25 L1644.3 760.27 L1644.7 761.29 L1645.1 762.29 L1645.5 763.29 L1645.9 764.27 L1646.3 765.24 L1646.7 766.18 L1647.1 767.09 L1647.5 767.98 L1647.9 768.83 L1648.3 769.65 L1648.7 770.43 L1649.1 771.17 L1649.5 771.86 L1649.9 772.51 L1650.3 773.1 L1650.7 773.65 L1651.1 774.14 L1651.5 774.57 L1651.9 774.94 L1652.3 775.26 L1652.7 775.51 L1653.1 775.7 L1653.5 775.83 L1653.9 775.9 L1654.3 775.9 L1654.7 775.84 L1655.1 775.72 L1655.5 775.53 L1655.9 775.29 L1656.3 774.98 L1656.7 774.62 L1657.1 774.19 L1657.5 773.72 L1657.9 773.19 L1658.3 772.61 L1658.7 771.97 L1659.1 771.3 L1659.5 770.57 L1659.9 769.81 L1660.3 769 L1660.7 768.16 L1661.1 767.29 L1661.5 766.39 L1661.9 765.46 L1662.3 764.5 L1662.7 763.53 L1663.1 762.54 L1663.5 761.54 L1663.9 760.53 L1664.3 759.52 L1664.7 758.51 L1665.1 757.5 L1665.5 756.49 L1665.9 755.5 L1666.3 754.52 L1666.7 753.56 L1667.1 752.62 L1667.5 751.7 L1667.9 750.82 L1668.3 749.97 L1668.7 749.15 L1669.1 748.37 L1669.5 747.63 L1669.9 746.94 L1670.3 746.29 L1670.7 745.7 L1671.1 745.15 L1671.5 744.66 L1671.9 744.23 L1672.3 743.86 L1672.7 743.54 L1673.1 743.29 L1673.5 743.1 L1673.9 742.97 L1674.3 742.9 L1674.7 742.9 L1675.1 742.96 L1675.5 743.08 L1675.9 743.26 L1676.3 743.5 L1676.7 743.81 L1677.1 744.17 L1677.5 744.58 L1677.9 745.06 L1678.3 745.58 L1678.7 746.15 L1679.1 746.78 L1679.5 747.45 L1679.9 748.16 L1680.3 748.92 L1680.7 749.71 L1681.1 750.54 L1681.5 751.4 L1681.9 752.28 L1682.3 753.2 L1682.7 754.13 L1683.1 755.09 L1683.5 756.05 L1683.9 757.03 L1684.3 758.02 L1684.7 759.01 L1685.1 760 L1685.5 760.98 L1685.9 761.95 L1686.3 762.92 L1686.7 763.87 L1687.1 764.79 L1687.5 765.7 L1687.9 766.58 L1688.3 767.42 L1688.7 768.24 L1689.1 769.02 L1689.5 769.75 L1689.9 770.45 L1690.3 771.1 L1690.7 771.7 L1691.1 772.25 L1691.5 772.74 L1691.9 773.19 L1692.3 773.57 L1692.7 773.9 L1693.1 774.16 L1693.5 774.37 L1693.9 774.51 L1694.3 774.59 L1694.7 774.61 L1695.1 774.57 L1695.5 774.47 L1695.9 774.31 L1696.3 774.08 L1696.7 773.8 L1697.1 773.47 L1697.5 773.07 L1697.9 772.63 L1698.3 772.13 L1698.7 771.58 L1699.1 770.98 L1699.5 770.34 L1699.9 769.65 L1700.3 768.92 L1700.7 768.16 L1701.1 767.36 L1701.5 766.52 L1701.9 765.66 L1702.3 764.77 L1702.7 763.86 L1703.1 762.93 L1703.5 761.98 L1703.9 761.02 L1704.3 760.06 L1704.7 759.08 L1705.1 758.11 L1705.5 757.14 L1705.9 756.17 L1706.3 755.22 L1706.7 754.28 L1707.1 753.35 L1707.5 752.45 L1707.9 751.57 L1708.3 750.71 L1708.7 749.89 L1709.1 749.1 L1709.5 748.35 L1709.9 747.64 L1710.3 746.98 L1710.7 746.35 L1711.1 745.78 L1711.5 745.26 L1711.9 744.79 L1712.3 744.37 L1712.7 744.01 L1713.1 743.7 L1713.5 743.46 L1713.9 743.27 L1714.3 743.15 L1714.7 743.08 L1715.1 743.08 L1715.5 743.14 L1715.9 743.25 L1716.3 743.42 L1716.7 743.66 L1717.1 743.94 L1717.5 744.29 L1717.9 744.68 L1718.3 745.13 L1718.7 745.63 L1719.1 746.18 L1719.5 746.77 L1719.9 747.41 L1720.3 748.09 L1720.7 748.8 L1721.1 749.56 L1721.5 750.34 L1721.9 751.16 L1722.3 752.01 L1722.7 752.88 L1723.1 753.77 L1723.5 754.67 L1723.9 755.59 L1724.3 756.52 L1724.7 757.46 L1725.1 758.4 L1725.5 759.34 L1725.9 760.28 L1726.3 761.2 L1726.7 762.12 L1727.1 763.02 L1727.5 763.9 L1727.9 764.76 L1728.3 765.6 L1728.7 766.4 L1729.1 767.18 L1729.5 767.92 L1729.9 768.62 L1730.3 769.28 L1730.7 769.89 L1731.1 770.46 L1731.5 770.99 L1731.9 771.46 L1732.3 771.88 L1732.7 772.24 L1733.1 772.55 L1733.5 772.81 L1733.9 773 L1734.3 773.14 L1734.7 773.21 L1735.1 773.23 L1735.5 773.18 L1735.9 773.08 L1736.3 772.92 L1736.7 772.69 L1737.1 772.41 L1737.5 772.08 L1737.9 771.69 L1738.3 771.24 L1738.7 770.75 L1739.1 770.2 L1739.5 769.61 L1739.9 768.97 L1740.3 768.29 L1740.7 767.57 L1741.1 766.81 L1741.5 766.02 L1741.9 765.2 L1742.3 764.35 L1742.7 763.47 L1743.1 762.58 L1743.5 761.66 L1743.9 760.73 L1744.3 759.79 L1744.7 758.85 L1745.1 757.9 L1745.5 756.95 L1745.9 756 L1746.3 755.07 L1746.7 754.14 L1747.1 753.24 L1747.5 752.35 L1747.9 751.48 L1748.3 750.64 L1748.7 749.83 L1749.1 749.05 L1749.5 748.31 L1749.9 747.6 L1750.3 746.94 L1750.7 746.33 L1751.1 745.76 L1751.5 745.24 L1751.9 744.77 L1752.3 744.36 L1752.7 744 L1753.1 743.7 L1753.5 743.45 L1753.9 743.27 L1754.3 743.14 L1754.7 743.07 L1755.1 743.06 L1755.5 743.1 L1755.9 743.2 L1756.3 743.35 L1756.7 743.55 L1757.1 743.81 L1757.5 744.11 L1757.9 744.46 L1758.3 744.86 L1758.7 745.3 L1759.1 745.79 L1759.5 746.32 L1759.9 746.89 L1760.3 747.5 L1760.7 748.14 L1761.1 748.82 L1761.5 749.53 L1761.9 750.27 L1762.3 751.03 L1762.7 751.82 L1763.1 752.63 L1763.5 753.46 L1763.9 754.3 L1764.3 755.16 L1764.7 756.02 L1765.1 756.89 L1765.5 757.77 L1765.9 758.64 L1766.3 759.51 L1766.7 760.38 L1767.1 761.24 L1767.5 762.08 L1767.9 762.91 L1768.3 763.72 L1768.7 764.51 L1769.1 765.28 L1769.5 766.02 L1769.9 766.73 L1770.3 767.41 L1770.7 768.06 L1771.1 768.67 L1771.5 769.24 L1771.9 769.77 L1772.3 770.26 L1772.7 770.7 L1773.1 771.09 L1773.5 771.44 L1773.9 771.74 L1774.3 771.99 L1774.7 772.19 L1775.1 772.34 L1775.5 772.43 L1775.9 772.46 L1776.3 772.44 L1776.7 772.36 L1777.1 772.22 L1777.5 772.02 L1777.9 771.76 L1778.3 771.45 L1778.7 771.08 L1779.1 770.66 L1779.5 770.19 L1779.9 769.66 L1780.3 769.09 L1780.7 768.47 L1781.1 767.81 L1781.5 767.11 L1781.9 766.37 L1782.3 765.6 L1782.7 764.79 L1783.1 763.95 L1783.5 763.09 L1783.9 762.21 L1784.3 761.31 L1784.7 760.39 L1785.1 759.47 L1785.5 758.53 L1785.9 757.6 L1786.3 756.66 L1786.7 755.73 L1787.1 754.81 L1787.5 754.12 L1787.9 778.37 L1788.3 811.51 L1788.7 845.19 L1789.1 878.91 L1789.5 912.5 L1789.9 942.81 L1790.3 968 L1790.7 988.76 L1791.1 1005.89 L1791.5 1020.03 L1791.9 1031.71 L1792.3 1041.33 L1792.7 1049.24 L1793.1 1055.69 L1793.5 1060.93 L1793.9 1065.14 L1794.3 1068.5 L1794.7 1071.15 L1795.1 1073.23 L1795.5 1074.84 L1795.9 1076.09 L1796.3 1077.04 L1796.7 1077.77 L1797.1 1078.32 L1797.5 1078.74 L1797.9 1079.05 L1798.3 1079.29 L1798.7 1079.47 L1799.1 1079.6 L1799.5 1079.7 L1799.9 1079.78 L1800.3 1079.83 L1800.7 1079.88 L1801.1 1079.91 L1801.5 1079.93 L1801.9 1079.95 L1802.3 1079.96 L1802.7 1079.97 L1803.1 1079.98 L1803.5 1079.98 L1803.9 1079.99 L1804.3 1079.99 L1804.7 1079.99 L1805.1 1079.99 L1805.5 1080 L1805.9 1080 L1806.3 1080 L1806.7 1080 L1807.1 1080 L1807.5 1080 L1807.9 1080 L1808.3 1080 L1808.7 1080 L1809.1 1080 L1809.5 1080 L1809.9 1080 L1810.3 1080 L1810.7 1080 L1811.1 1080 L1811.5 1080 L1811.9 1080 L1812.3 1080 L1812.7 1080 L1813.1 1080 L1813.5 1080 L1813.9 1080 L1814.3 1080 L1814.7 1080 L1815.1 1080 L1815.5 1080 L1815.9 1080 L1816.3 1080 L1816.7 1080 L1817.1 1080 L1817.5 1080 L1817.9 1080 L1818.3 1080 L1818.7 1080 L1819.1 1080 L1819.5 1080 L1819.9 1080 L1820.3 1080 L1820.7 1080 L1821.1 1080 L1821.5 1080 L1821.9 1080 L1822.3 1080 L1822.7 1080 L1823.1 1080 L1823.5 1080 L1823.9 1080 L1824.3 1080 L1824.7 1080 L1825.1 1080 L1825.5 1080 L1825.9 1080 L1826.3 1080 L1826.7 1080 L1827.1 1080 L1827.5 1080 L1827.9 1080 L1828.3 1080 L1828.7 1080 L1829.1 1080 L1829.5 1080 L1829.9 1080 L1830.3 1080 L1830.7 1080 L1831.1 1080 L1831.5 1080 L1831.9 1080 L1832.3 1080 L1832.7 1080 L1833.1 1080 L1833.5 1080 L1833.9 1080 L1834.3 1080 L1834.7 1080 L1835.1 1080 L1835.5 1080 L1835.9 1080 L1836.3 1080 L1836.7 1080 L1837.1 1080 L1837.5 1080 L1837.9 1080 L1838.3 1080 L1838.7 1080 L1839.1 1080 L1839.5 1080 L1839.9 1080 L1840.3 1080 L1840.7 1080 L1841.1 1080 L1841.5 1080 L1841.9 1080 L1842.3 1080 L1842.7 1080 L1843.1 1080 L1843.5 1080 L1843.9 1080 L1844.3 1080 L1844.7 1080 L1845.1 1080 L1845.5 1080 L1845.9 1080 L1846.3 1080 L1846.7 1080 L1847.1 1080 L1847.5 1080 L1847.9 1080 L1848.3 1080 L1848.7 1080 L1849.1 1080 L1849.5 1080 L1849.9 1080 L1850.3 1080 L1850.7 1080 L1851.1 1080 L1851.5 1080 L1851.9 1080 L1852.3 1080 L1852.7 1080 L1853.1 1080 L1853.5 1080 L1853.9 1080 L1854.3 1080 L1854.7 1080 L1855.1 1080 L1855.5 1080 L1855.9 1080 L1856.3 1080 L1856.7 1080 L1857.1 1080 L1857.5 1080 L1857.9 1080 L1858.3 1080 L1858.7 1080 L1859.1 1080 L1859.5 1080 L1859.9 1080 L1860.3 1080 L1860.7 1080 L1861.1 1080 L1861.5 1080 L1861.9 1080 L1862.3 1080 L1862.7 1080 L1863.1 1080 L1863.5 1080 L1863.9 1080 L1864.3 1080 L1864.7 1080 L1865.1 1080 L1865.5 1080 L1865.9 1080 L1866.3 1080 L1866.7 1080 L1867.1 1080 L1867.5 1080 L1867.9 1080 L1868.3 1080 L1868.7 1080 L1869.1 1080 L1869.5 1080 L1869.9 1080 L1870.3 1080 L1870.7 1080 L1871.1 1080 L1871.5 1080 L1871.9 1080 L1872.3 1080 L1872.7 1080 L1873.1 1080 L1873.5 1080 L1873.9 1080 L1874.3 1080 L1874.7 1080 L1875.1 1080 L1875.5 1080 L1875.9 1080 L1876.3 1080 L1876.7 1080 L1877.1 1080 L1877.5 1080 L1877.9 1080 L1878.3 1080 L1878.7 1080 L1879.1 1080 L1879.5 1080 L1879.9 1080 L1880.3 1080 L1880.7 1080 L1881.1 1080 L1881.5 1080 L1881.9 1080 L1882.3 1080 L1882.7 1080 L1883.1 1080 L1883.5 1080 L1883.9 1080 L1884.3 1080 L1884.7 1080 L1885.1 1080 L1885.5 1080 L1885.9 1080 L1886.3 1080 L1886.7 1080 L1887.1 1080 L1887.5 1080 L1887.9 1080 L1888.3 1080 L1888.7 1080 L1889.1 1080 L1889.5 1080 L1889.9 1080 L1890.3 1080 L1890.7 1080 L1891.1 1080 L1891.5 1080 L1891.9 1080 L1892.3 1080 L1892.7 1080 L1893.1 1080 L1893.5 1080 L1893.9 1080 L1894.3 1080 L1894.7 1080 L1895.1 1080 L1895.5 1080 L1895.9 1080 L1896.3 1080 L1896.7 1080 L1897.1 1080 L1897.5 1080 L1897.9 1080 L1898.3 1080 L1898.7 1080 L1899.1 1080 L1899.5 1080 L1899.9 1080 L1900.3 1080 L1900.7 1080 L1901.1 1080 L1901.5 1080 L1901.9 1080 L1902.3 1080 L1902.7 1080 L1903.1 1080 L1903.5 1080 L1903.9 1080 L1904.3 1080 L1904.7 1080 L1905.1 1080 L1905.5 1080 L1905.9 1080 L1906.3 1080 L1906.7 1080 L1907.1 1080 L1907.5 1080 L1907.9 1080 L1908.3 1080 L1908.7 1080 L1909.1 1080 L1909.5 1080 L1909.9 1080 L1910.3 1080 L1910.7 1080 L1911.1 1080 L1911.5 1080 L1911.9 1080 L1912.3 1080 L1912.7 1080 L1913.1 1080 L1913.5 1080 L1913.9 1080 L1914.3 1080 L1914.7 1080 L1915.1 1080 L1915.5 1080 L1915.9 1080 L1916.3 1080 L1916.7 1080 L1917.1 1080 L1917.5 1080 L1917.9 1080 L1918.3 1080 L1918.7 1080 L1919.1 1080 L1919.5 1080 L1919.9 1080 L1920.3 1080 L1920.7 1080 L1921.1 1080 L1921.5 1080 L1921.9 1080 L1922.3 1080 L1922.7 1080 L1923.1 1080 L1923.5 1080 L1923.9 1080" fill="none" stroke="#ff0000" stroke-width="10.3" stroke-linecap="butt" stroke-linejoin="round" shape-rendering="crispEdges"/>
<text x="237.7" y="1174.3" font-size="62.5" text-anchor="middle" fill="#404040" >0</text>
<text x="797.7" y="1174.3" font-size="62.5" text-anchor="middle" fill="#404040" >50</text>
<text x="1359.2" y="1174.3" font-size="62.5" text-anchor="middle" fill="#404040" >100</text>
<text x="1919.2" y="1174.3" font-size="62.5" text-anchor="middle" fill="#404040" >150</text>
<text x="214.9" y="1063.4" font-size="62.5" text-anchor="end" fill="#404040" >-500</text>
<text x="216.9" y="929.9" font-size="62.5" text-anchor="end" fill="#404040" >0</text>
<text x="216.9" y="796.4" font-size="62.5" text-anchor="end" fill="#404040" >500</text>
<text x="1076.6" y="1258.4" font-size="68.75" text-anchor="middle" fill="#404040" >Time (s)</text>
<text transform="translate(70.3 908) rotate(-90)" font-size="68.75" text-anchor="middle" fill="#262626">Speed (rpm)</text>
<rect x="1500.5" y="818" width="366" height="214.5" fill="#fff" stroke="#1c1c1c" stroke-width="3.4" shape-rendering="crispEdges"/>
<path d="M1547.9 874.9H1683.1" stroke="#0000ff" stroke-width="10" fill="none"/>
<path d="M1547.9 976H1683.1" stroke="#ff0000" stroke-width="10" fill="none"/>
<g font-family="'DejaVu Serif', 'Liberation Serif', serif" font-style="italic" fill="#000" stroke="#000" stroke-width="0.9" stroke-linejoin="round">
<text transform="translate(1691.2 894.4) scale(0.89 0.975)" font-size="66">ω</text>
<text x="1735.6" y="904" font-size="44" letter-spacing="3.6">ref</text>
<text transform="translate(1691.2 994.3) scale(0.89 0.975)" font-size="66">ω</text>
<text transform="translate(1739 1004.8) scale(1.15 1)" font-size="48.8" letter-spacing="2.7">IP</text>
</g>
</svg></body></html>
